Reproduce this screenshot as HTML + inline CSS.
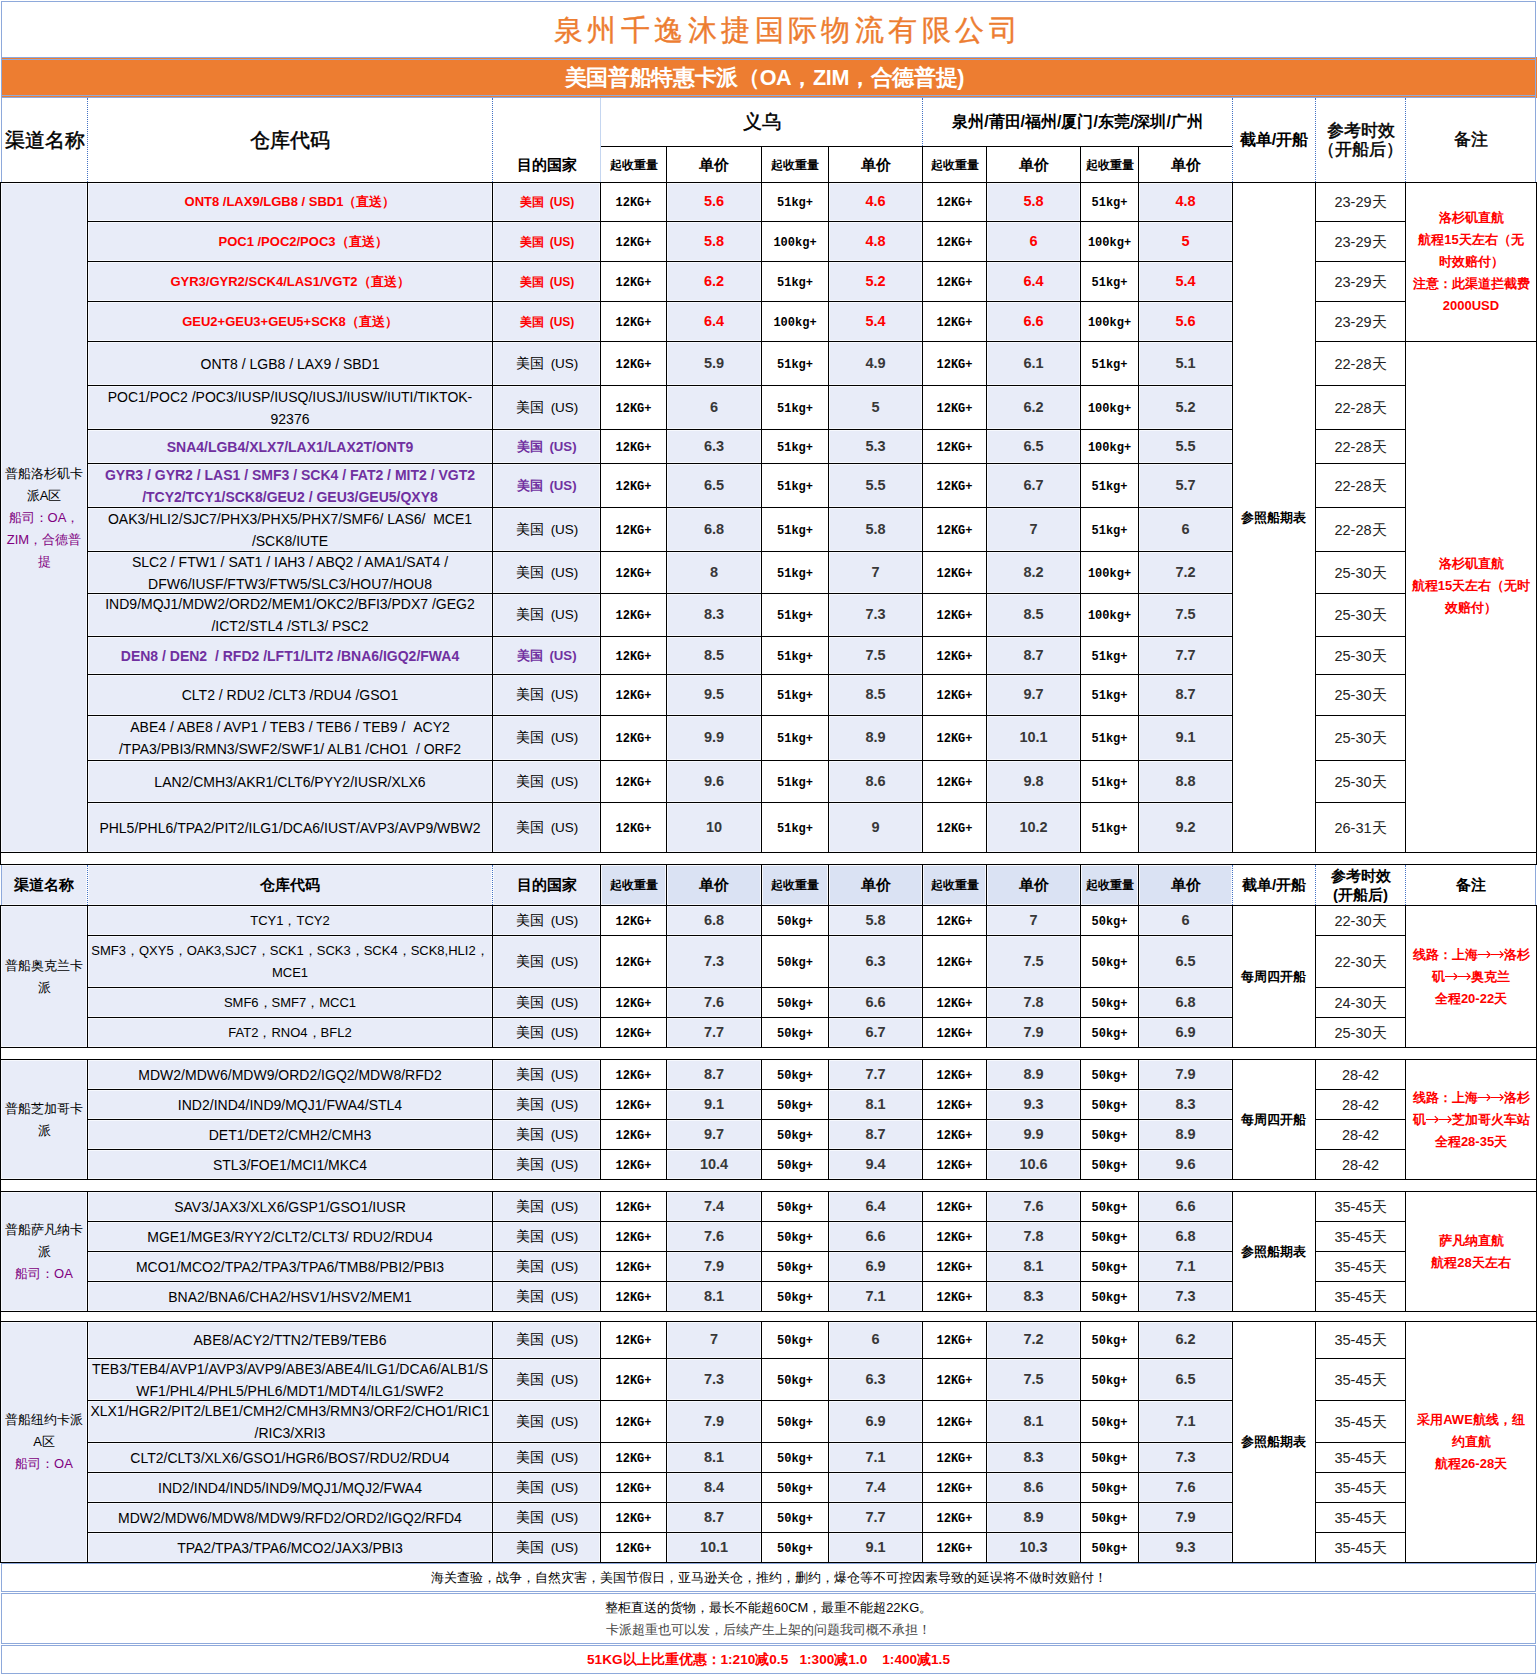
<!DOCTYPE html>
<html><head><meta charset="utf-8"><title>price</title><style>
*{margin:0;padding:0;box-sizing:border-box}
html,body{width:1537px;height:1675px;overflow:hidden;background:#fff}
body{position:relative;font-family:"Liberation Sans",sans-serif;color:#000}
body>div{position:absolute}
.t{display:flex;align-items:center;text-align:center;line-height:22px;white-space:nowrap}
.title{font-family:"Liberation Serif",serif;font-size:29px;color:#ED7D31;letter-spacing:4.45px;-webkit-text-stroke:0.35px #ED7D31;padding-left:39px}
.band{font-size:21.6px;font-weight:bold;color:#fff;padding-right:8px;letter-spacing:-0.35px}
.h1big{font-size:19.5px;-webkit-text-stroke:0.45px #000}
.h1yw{font-size:19px;-webkit-text-stroke:0.45px #000}
.h1ck{font-size:16.5px;-webkit-text-stroke:0.45px #000;line-height:19px}
.h1bz{font-size:17px;-webkit-text-stroke:0.45px #000}
.hb15{font-size:15px;font-weight:bold}
.hb16{font-size:16px;font-weight:bold}
.hb12{font-size:12px;font-weight:bold}
.lh19{line-height:19px}
.lh22{line-height:22px}
.code{font-size:14px;color:#000}
.cty{font-size:13.5px;padding-left:1px}
.cty .us{margin-left:7px}
.ctb{font-size:12px;padding-left:1px}
.ctb .us{margin-left:6px}
.ctp{font-size:13.2px}
.ctp .us{margin-left:6px}
.cb{font-size:13px}
.c13{font-size:13px}
.b{font-weight:bold}
.red{color:#FF0000}
.purple{color:#7030A0}
.mag{color:#800080}
.wt{font-family:"Liberation Mono",monospace;font-size:12px;font-weight:bold;padding-top:2px}
.wt.up{letter-spacing:0}
.price{font-size:14.5px;font-weight:bold;color:#383838;padding-bottom:2px}
.price.red{color:#FF0000}
.days{font-size:14.5px;color:#222}
.chan{font-size:13px}
.jd{font-size:13px;font-weight:bold}
.bz{font-size:13px;font-weight:bold;color:#FF0000}
.foot{font-size:12.9px}
.ar{vertical-align:middle;margin-top:-2px}
.f136{font-size:13.6px}
</style></head><body>
<div style="left:1px;top:1px;width:1535px;height:1px;background:#8EA9DB;"></div>
<div style="left:1px;top:1px;width:1px;height:97px;background:#8EA9DB;"></div>
<div style="left:1535px;top:1px;width:1px;height:97px;background:#8EA9DB;"></div>
<div class="t title" style="left:2px;top:2px;width:1533px;height:55px;justify-content:center;"><span>泉州千逸沐捷国际物流有限公司</span></div>
<div style="left:1px;top:57px;width:1536px;height:41px;background:#ED7D31;"></div>
<div style="left:1px;top:57px;width:1535px;height:1px;background:#8EA9DB;"></div>
<div style="left:1px;top:59px;width:1535px;height:1px;background:#8EA9DB;"></div>
<div style="left:1px;top:95px;width:1535px;height:1px;background:#8EA9DB;"></div>
<div style="left:1px;top:97px;width:1535px;height:1px;background:#8EA9DB;"></div>
<div style="left:1px;top:57px;width:1px;height:41px;background:#8EA9DB;"></div>
<div style="left:1535px;top:57px;width:1px;height:41px;background:#8EA9DB;"></div>
<div class="t band" style="left:2px;top:60px;width:1533px;height:35px;justify-content:center;"><span>美国普船特惠卡派（OA，ZIM，合德普提)</span></div>
<div style="left:1px;top:97px;width:1px;height:86px;background:#8EA9DB;"></div>
<div style="left:1535px;top:97px;width:1px;height:86px;background:#8EA9DB;"></div>
<div style="left:87px;top:98px;width:0;height:84px;border-left:1px dotted #4472C4;"></div>
<div style="left:492px;top:98px;width:0;height:84px;border-left:1px dotted #4472C4;"></div>
<div style="left:600px;top:98px;width:1px;height:84px;background:#C5D6F0;"></div>
<div style="left:922px;top:98px;width:0;height:48px;border-left:1px dotted #4472C4;"></div>
<div style="left:1232px;top:98px;width:0;height:84px;border-left:1px dotted #4472C4;"></div>
<div style="left:1315px;top:98px;width:0;height:84px;border-left:1px dotted #4472C4;"></div>
<div style="left:1405px;top:98px;width:0;height:84px;border-left:1px dotted #4472C4;"></div>
<div style="left:601px;top:146px;width:631px;height:1px;background:#000;"></div>
<div style="left:666px;top:146px;width:1px;height:37px;background:#000;"></div>
<div style="left:761px;top:146px;width:1px;height:37px;background:#000;"></div>
<div style="left:828px;top:146px;width:1px;height:37px;background:#000;"></div>
<div style="left:922px;top:146px;width:1px;height:37px;background:#000;"></div>
<div style="left:986px;top:146px;width:1px;height:37px;background:#000;"></div>
<div style="left:1080px;top:146px;width:1px;height:37px;background:#000;"></div>
<div style="left:1138px;top:146px;width:1px;height:37px;background:#000;"></div>
<div class="t h1big" style="left:2px;top:98px;width:85px;height:84px;justify-content:center;"><span>渠道名称</span></div>
<div class="t h1big" style="left:88px;top:98px;width:404px;height:84px;justify-content:center;"><span>仓库代码</span></div>
<div class="t hb15" style="left:493px;top:147px;width:107px;height:35px;justify-content:center;"><span>目的国家</span></div>
<div class="t h1yw" style="left:601px;top:98px;width:321px;height:48px;justify-content:center;"><span>义乌</span></div>
<div class="t hb16" style="left:923px;top:98px;width:309px;height:48px;justify-content:center;"><span>泉州/莆田/福州/厦门/东莞/深圳/广州</span></div>
<div class="t hb12" style="left:601px;top:147px;width:65px;height:35px;justify-content:center;"><span>起收重量</span></div>
<div class="t hb15" style="left:667px;top:147px;width:94px;height:35px;justify-content:center;"><span>单价</span></div>
<div class="t hb12" style="left:762px;top:147px;width:66px;height:35px;justify-content:center;"><span>起收重量</span></div>
<div class="t hb15" style="left:829px;top:147px;width:93px;height:35px;justify-content:center;"><span>单价</span></div>
<div class="t hb12" style="left:923px;top:147px;width:63px;height:35px;justify-content:center;"><span>起收重量</span></div>
<div class="t hb15" style="left:987px;top:147px;width:93px;height:35px;justify-content:center;"><span>单价</span></div>
<div class="t hb12" style="left:1081px;top:147px;width:57px;height:35px;justify-content:center;"><span>起收重量</span></div>
<div class="t hb15" style="left:1139px;top:147px;width:93px;height:35px;justify-content:center;"><span>单价</span></div>
<div class="t hb16" style="left:1233px;top:98px;width:82px;height:84px;justify-content:center;"><span>截单/开船</span></div>
<div class="t h1ck" style="left:1316px;top:98px;width:89px;height:84px;justify-content:center;"><span>参考时效<br>（开船后）</span></div>
<div class="t h1bz" style="left:1406px;top:98px;width:129px;height:84px;justify-content:center;"><span>备注</span></div>
<div style="left:1px;top:183px;width:86px;height:669px;background:#E8ECF8;box-shadow:inset 0 0 0 1px #F6F8FD"></div>
<div style="left:88px;top:183px;width:404px;height:38px;background:#E8ECF8;box-shadow:inset 0 0 0 1px #F6F8FD"></div>
<div style="left:493px;top:183px;width:107px;height:38px;background:#E8ECF8;box-shadow:inset 0 0 0 1px #F6F8FD"></div>
<div style="left:667px;top:183px;width:94px;height:38px;background:#E8ECF8;box-shadow:inset 0 0 0 1px #F6F8FD"></div>
<div style="left:829px;top:183px;width:93px;height:38px;background:#E8ECF8;box-shadow:inset 0 0 0 1px #F6F8FD"></div>
<div style="left:987px;top:183px;width:93px;height:38px;background:#E8ECF8;box-shadow:inset 0 0 0 1px #F6F8FD"></div>
<div style="left:1139px;top:183px;width:93px;height:38px;background:#E8ECF8;box-shadow:inset 0 0 0 1px #F6F8FD"></div>
<div style="left:88px;top:222px;width:404px;height:39px;background:#E8ECF8;box-shadow:inset 0 0 0 1px #F6F8FD"></div>
<div style="left:493px;top:222px;width:107px;height:39px;background:#E8ECF8;box-shadow:inset 0 0 0 1px #F6F8FD"></div>
<div style="left:667px;top:222px;width:94px;height:39px;background:#E8ECF8;box-shadow:inset 0 0 0 1px #F6F8FD"></div>
<div style="left:829px;top:222px;width:93px;height:39px;background:#E8ECF8;box-shadow:inset 0 0 0 1px #F6F8FD"></div>
<div style="left:987px;top:222px;width:93px;height:39px;background:#E8ECF8;box-shadow:inset 0 0 0 1px #F6F8FD"></div>
<div style="left:1139px;top:222px;width:93px;height:39px;background:#E8ECF8;box-shadow:inset 0 0 0 1px #F6F8FD"></div>
<div style="left:88px;top:262px;width:404px;height:39px;background:#E8ECF8;box-shadow:inset 0 0 0 1px #F6F8FD"></div>
<div style="left:493px;top:262px;width:107px;height:39px;background:#E8ECF8;box-shadow:inset 0 0 0 1px #F6F8FD"></div>
<div style="left:667px;top:262px;width:94px;height:39px;background:#E8ECF8;box-shadow:inset 0 0 0 1px #F6F8FD"></div>
<div style="left:829px;top:262px;width:93px;height:39px;background:#E8ECF8;box-shadow:inset 0 0 0 1px #F6F8FD"></div>
<div style="left:987px;top:262px;width:93px;height:39px;background:#E8ECF8;box-shadow:inset 0 0 0 1px #F6F8FD"></div>
<div style="left:1139px;top:262px;width:93px;height:39px;background:#E8ECF8;box-shadow:inset 0 0 0 1px #F6F8FD"></div>
<div style="left:88px;top:302px;width:404px;height:39px;background:#E8ECF8;box-shadow:inset 0 0 0 1px #F6F8FD"></div>
<div style="left:493px;top:302px;width:107px;height:39px;background:#E8ECF8;box-shadow:inset 0 0 0 1px #F6F8FD"></div>
<div style="left:667px;top:302px;width:94px;height:39px;background:#E8ECF8;box-shadow:inset 0 0 0 1px #F6F8FD"></div>
<div style="left:829px;top:302px;width:93px;height:39px;background:#E8ECF8;box-shadow:inset 0 0 0 1px #F6F8FD"></div>
<div style="left:987px;top:302px;width:93px;height:39px;background:#E8ECF8;box-shadow:inset 0 0 0 1px #F6F8FD"></div>
<div style="left:1139px;top:302px;width:93px;height:39px;background:#E8ECF8;box-shadow:inset 0 0 0 1px #F6F8FD"></div>
<div style="left:88px;top:342px;width:404px;height:43px;background:#E8ECF8;box-shadow:inset 0 0 0 1px #F6F8FD"></div>
<div style="left:493px;top:342px;width:107px;height:43px;background:#E8ECF8;box-shadow:inset 0 0 0 1px #F6F8FD"></div>
<div style="left:667px;top:342px;width:94px;height:43px;background:#E8ECF8;box-shadow:inset 0 0 0 1px #F6F8FD"></div>
<div style="left:829px;top:342px;width:93px;height:43px;background:#E8ECF8;box-shadow:inset 0 0 0 1px #F6F8FD"></div>
<div style="left:987px;top:342px;width:93px;height:43px;background:#E8ECF8;box-shadow:inset 0 0 0 1px #F6F8FD"></div>
<div style="left:1139px;top:342px;width:93px;height:43px;background:#E8ECF8;box-shadow:inset 0 0 0 1px #F6F8FD"></div>
<div style="left:88px;top:386px;width:404px;height:43px;background:#E8ECF8;box-shadow:inset 0 0 0 1px #F6F8FD"></div>
<div style="left:493px;top:386px;width:107px;height:43px;background:#E8ECF8;box-shadow:inset 0 0 0 1px #F6F8FD"></div>
<div style="left:667px;top:386px;width:94px;height:43px;background:#E8ECF8;box-shadow:inset 0 0 0 1px #F6F8FD"></div>
<div style="left:829px;top:386px;width:93px;height:43px;background:#E8ECF8;box-shadow:inset 0 0 0 1px #F6F8FD"></div>
<div style="left:987px;top:386px;width:93px;height:43px;background:#E8ECF8;box-shadow:inset 0 0 0 1px #F6F8FD"></div>
<div style="left:1139px;top:386px;width:93px;height:43px;background:#E8ECF8;box-shadow:inset 0 0 0 1px #F6F8FD"></div>
<div style="left:88px;top:430px;width:404px;height:33px;background:#E8ECF8;box-shadow:inset 0 0 0 1px #F6F8FD"></div>
<div style="left:493px;top:430px;width:107px;height:33px;background:#E8ECF8;box-shadow:inset 0 0 0 1px #F6F8FD"></div>
<div style="left:667px;top:430px;width:94px;height:33px;background:#E8ECF8;box-shadow:inset 0 0 0 1px #F6F8FD"></div>
<div style="left:829px;top:430px;width:93px;height:33px;background:#E8ECF8;box-shadow:inset 0 0 0 1px #F6F8FD"></div>
<div style="left:987px;top:430px;width:93px;height:33px;background:#E8ECF8;box-shadow:inset 0 0 0 1px #F6F8FD"></div>
<div style="left:1139px;top:430px;width:93px;height:33px;background:#E8ECF8;box-shadow:inset 0 0 0 1px #F6F8FD"></div>
<div style="left:88px;top:464px;width:404px;height:43px;background:#E8ECF8;box-shadow:inset 0 0 0 1px #F6F8FD"></div>
<div style="left:493px;top:464px;width:107px;height:43px;background:#E8ECF8;box-shadow:inset 0 0 0 1px #F6F8FD"></div>
<div style="left:667px;top:464px;width:94px;height:43px;background:#E8ECF8;box-shadow:inset 0 0 0 1px #F6F8FD"></div>
<div style="left:829px;top:464px;width:93px;height:43px;background:#E8ECF8;box-shadow:inset 0 0 0 1px #F6F8FD"></div>
<div style="left:987px;top:464px;width:93px;height:43px;background:#E8ECF8;box-shadow:inset 0 0 0 1px #F6F8FD"></div>
<div style="left:1139px;top:464px;width:93px;height:43px;background:#E8ECF8;box-shadow:inset 0 0 0 1px #F6F8FD"></div>
<div style="left:88px;top:508px;width:404px;height:43px;background:#E8ECF8;box-shadow:inset 0 0 0 1px #F6F8FD"></div>
<div style="left:493px;top:508px;width:107px;height:43px;background:#E8ECF8;box-shadow:inset 0 0 0 1px #F6F8FD"></div>
<div style="left:667px;top:508px;width:94px;height:43px;background:#E8ECF8;box-shadow:inset 0 0 0 1px #F6F8FD"></div>
<div style="left:829px;top:508px;width:93px;height:43px;background:#E8ECF8;box-shadow:inset 0 0 0 1px #F6F8FD"></div>
<div style="left:987px;top:508px;width:93px;height:43px;background:#E8ECF8;box-shadow:inset 0 0 0 1px #F6F8FD"></div>
<div style="left:1139px;top:508px;width:93px;height:43px;background:#E8ECF8;box-shadow:inset 0 0 0 1px #F6F8FD"></div>
<div style="left:88px;top:552px;width:404px;height:41px;background:#E8ECF8;box-shadow:inset 0 0 0 1px #F6F8FD"></div>
<div style="left:493px;top:552px;width:107px;height:41px;background:#E8ECF8;box-shadow:inset 0 0 0 1px #F6F8FD"></div>
<div style="left:667px;top:552px;width:94px;height:41px;background:#E8ECF8;box-shadow:inset 0 0 0 1px #F6F8FD"></div>
<div style="left:829px;top:552px;width:93px;height:41px;background:#E8ECF8;box-shadow:inset 0 0 0 1px #F6F8FD"></div>
<div style="left:987px;top:552px;width:93px;height:41px;background:#E8ECF8;box-shadow:inset 0 0 0 1px #F6F8FD"></div>
<div style="left:1139px;top:552px;width:93px;height:41px;background:#E8ECF8;box-shadow:inset 0 0 0 1px #F6F8FD"></div>
<div style="left:88px;top:594px;width:404px;height:42px;background:#E8ECF8;box-shadow:inset 0 0 0 1px #F6F8FD"></div>
<div style="left:493px;top:594px;width:107px;height:42px;background:#E8ECF8;box-shadow:inset 0 0 0 1px #F6F8FD"></div>
<div style="left:667px;top:594px;width:94px;height:42px;background:#E8ECF8;box-shadow:inset 0 0 0 1px #F6F8FD"></div>
<div style="left:829px;top:594px;width:93px;height:42px;background:#E8ECF8;box-shadow:inset 0 0 0 1px #F6F8FD"></div>
<div style="left:987px;top:594px;width:93px;height:42px;background:#E8ECF8;box-shadow:inset 0 0 0 1px #F6F8FD"></div>
<div style="left:1139px;top:594px;width:93px;height:42px;background:#E8ECF8;box-shadow:inset 0 0 0 1px #F6F8FD"></div>
<div style="left:88px;top:637px;width:404px;height:37px;background:#E8ECF8;box-shadow:inset 0 0 0 1px #F6F8FD"></div>
<div style="left:493px;top:637px;width:107px;height:37px;background:#E8ECF8;box-shadow:inset 0 0 0 1px #F6F8FD"></div>
<div style="left:667px;top:637px;width:94px;height:37px;background:#E8ECF8;box-shadow:inset 0 0 0 1px #F6F8FD"></div>
<div style="left:829px;top:637px;width:93px;height:37px;background:#E8ECF8;box-shadow:inset 0 0 0 1px #F6F8FD"></div>
<div style="left:987px;top:637px;width:93px;height:37px;background:#E8ECF8;box-shadow:inset 0 0 0 1px #F6F8FD"></div>
<div style="left:1139px;top:637px;width:93px;height:37px;background:#E8ECF8;box-shadow:inset 0 0 0 1px #F6F8FD"></div>
<div style="left:88px;top:675px;width:404px;height:40px;background:#E8ECF8;box-shadow:inset 0 0 0 1px #F6F8FD"></div>
<div style="left:493px;top:675px;width:107px;height:40px;background:#E8ECF8;box-shadow:inset 0 0 0 1px #F6F8FD"></div>
<div style="left:667px;top:675px;width:94px;height:40px;background:#E8ECF8;box-shadow:inset 0 0 0 1px #F6F8FD"></div>
<div style="left:829px;top:675px;width:93px;height:40px;background:#E8ECF8;box-shadow:inset 0 0 0 1px #F6F8FD"></div>
<div style="left:987px;top:675px;width:93px;height:40px;background:#E8ECF8;box-shadow:inset 0 0 0 1px #F6F8FD"></div>
<div style="left:1139px;top:675px;width:93px;height:40px;background:#E8ECF8;box-shadow:inset 0 0 0 1px #F6F8FD"></div>
<div style="left:88px;top:716px;width:404px;height:44px;background:#E8ECF8;box-shadow:inset 0 0 0 1px #F6F8FD"></div>
<div style="left:493px;top:716px;width:107px;height:44px;background:#E8ECF8;box-shadow:inset 0 0 0 1px #F6F8FD"></div>
<div style="left:667px;top:716px;width:94px;height:44px;background:#E8ECF8;box-shadow:inset 0 0 0 1px #F6F8FD"></div>
<div style="left:829px;top:716px;width:93px;height:44px;background:#E8ECF8;box-shadow:inset 0 0 0 1px #F6F8FD"></div>
<div style="left:987px;top:716px;width:93px;height:44px;background:#E8ECF8;box-shadow:inset 0 0 0 1px #F6F8FD"></div>
<div style="left:1139px;top:716px;width:93px;height:44px;background:#E8ECF8;box-shadow:inset 0 0 0 1px #F6F8FD"></div>
<div style="left:88px;top:761px;width:404px;height:41px;background:#E8ECF8;box-shadow:inset 0 0 0 1px #F6F8FD"></div>
<div style="left:493px;top:761px;width:107px;height:41px;background:#E8ECF8;box-shadow:inset 0 0 0 1px #F6F8FD"></div>
<div style="left:667px;top:761px;width:94px;height:41px;background:#E8ECF8;box-shadow:inset 0 0 0 1px #F6F8FD"></div>
<div style="left:829px;top:761px;width:93px;height:41px;background:#E8ECF8;box-shadow:inset 0 0 0 1px #F6F8FD"></div>
<div style="left:987px;top:761px;width:93px;height:41px;background:#E8ECF8;box-shadow:inset 0 0 0 1px #F6F8FD"></div>
<div style="left:1139px;top:761px;width:93px;height:41px;background:#E8ECF8;box-shadow:inset 0 0 0 1px #F6F8FD"></div>
<div style="left:88px;top:803px;width:404px;height:49px;background:#E8ECF8;box-shadow:inset 0 0 0 1px #F6F8FD"></div>
<div style="left:493px;top:803px;width:107px;height:49px;background:#E8ECF8;box-shadow:inset 0 0 0 1px #F6F8FD"></div>
<div style="left:667px;top:803px;width:94px;height:49px;background:#E8ECF8;box-shadow:inset 0 0 0 1px #F6F8FD"></div>
<div style="left:829px;top:803px;width:93px;height:49px;background:#E8ECF8;box-shadow:inset 0 0 0 1px #F6F8FD"></div>
<div style="left:987px;top:803px;width:93px;height:49px;background:#E8ECF8;box-shadow:inset 0 0 0 1px #F6F8FD"></div>
<div style="left:1139px;top:803px;width:93px;height:49px;background:#E8ECF8;box-shadow:inset 0 0 0 1px #F6F8FD"></div>
<div style="left:0px;top:182px;width:1537px;height:1px;background:#000;"></div>
<div style="left:0px;top:852px;width:1537px;height:1px;background:#000;"></div>
<div style="left:87px;top:221px;width:1146px;height:1px;background:#000;"></div>
<div style="left:1315px;top:221px;width:91px;height:1px;background:#000;"></div>
<div style="left:87px;top:261px;width:1146px;height:1px;background:#000;"></div>
<div style="left:1315px;top:261px;width:91px;height:1px;background:#000;"></div>
<div style="left:87px;top:301px;width:1146px;height:1px;background:#000;"></div>
<div style="left:1315px;top:301px;width:91px;height:1px;background:#000;"></div>
<div style="left:87px;top:341px;width:1146px;height:1px;background:#000;"></div>
<div style="left:1315px;top:341px;width:91px;height:1px;background:#000;"></div>
<div style="left:87px;top:385px;width:1146px;height:1px;background:#000;"></div>
<div style="left:1315px;top:385px;width:91px;height:1px;background:#000;"></div>
<div style="left:87px;top:429px;width:1146px;height:1px;background:#000;"></div>
<div style="left:1315px;top:429px;width:91px;height:1px;background:#000;"></div>
<div style="left:87px;top:463px;width:1146px;height:1px;background:#000;"></div>
<div style="left:1315px;top:463px;width:91px;height:1px;background:#000;"></div>
<div style="left:87px;top:507px;width:1146px;height:1px;background:#000;"></div>
<div style="left:1315px;top:507px;width:91px;height:1px;background:#000;"></div>
<div style="left:87px;top:551px;width:1146px;height:1px;background:#000;"></div>
<div style="left:1315px;top:551px;width:91px;height:1px;background:#000;"></div>
<div style="left:87px;top:593px;width:1146px;height:1px;background:#000;"></div>
<div style="left:1315px;top:593px;width:91px;height:1px;background:#000;"></div>
<div style="left:87px;top:636px;width:1146px;height:1px;background:#000;"></div>
<div style="left:1315px;top:636px;width:91px;height:1px;background:#000;"></div>
<div style="left:87px;top:674px;width:1146px;height:1px;background:#000;"></div>
<div style="left:1315px;top:674px;width:91px;height:1px;background:#000;"></div>
<div style="left:87px;top:715px;width:1146px;height:1px;background:#000;"></div>
<div style="left:1315px;top:715px;width:91px;height:1px;background:#000;"></div>
<div style="left:87px;top:760px;width:1146px;height:1px;background:#000;"></div>
<div style="left:1315px;top:760px;width:91px;height:1px;background:#000;"></div>
<div style="left:87px;top:802px;width:1146px;height:1px;background:#000;"></div>
<div style="left:1315px;top:802px;width:91px;height:1px;background:#000;"></div>
<div style="left:1405px;top:341px;width:132px;height:1px;background:#000;"></div>
<div style="left:0px;top:182px;width:1px;height:671px;background:#000;"></div>
<div style="left:87px;top:182px;width:1px;height:671px;background:#000;"></div>
<div style="left:492px;top:182px;width:1px;height:671px;background:#000;"></div>
<div style="left:600px;top:182px;width:1px;height:671px;background:#000;"></div>
<div style="left:666px;top:182px;width:1px;height:671px;background:#000;"></div>
<div style="left:761px;top:182px;width:1px;height:671px;background:#000;"></div>
<div style="left:828px;top:182px;width:1px;height:671px;background:#000;"></div>
<div style="left:922px;top:182px;width:1px;height:671px;background:#000;"></div>
<div style="left:986px;top:182px;width:1px;height:671px;background:#000;"></div>
<div style="left:1080px;top:182px;width:1px;height:671px;background:#000;"></div>
<div style="left:1138px;top:182px;width:1px;height:671px;background:#000;"></div>
<div style="left:1232px;top:182px;width:1px;height:671px;background:#000;"></div>
<div style="left:1315px;top:182px;width:1px;height:671px;background:#000;"></div>
<div style="left:1405px;top:182px;width:1px;height:671px;background:#000;"></div>
<div style="left:1536px;top:182px;width:1px;height:671px;background:#000;"></div>
<div class="t code red b cb " style="left:88px;top:183px;width:404px;height:38px;justify-content:center;"><span>ONT8 /LAX9/LGB8 / SBD1（直送）</span></div>
<div class="t cty red b ctb" style="left:493px;top:183px;width:107px;height:38px;justify-content:center;"><span>美国<span class="us">(US)</span></span></div>
<div class="t wt up" style="left:601px;top:183px;width:65px;height:38px;justify-content:center;"><span>12KG+</span></div>
<div class="t price red" style="left:667px;top:183px;width:94px;height:38px;justify-content:center;"><span>5.6</span></div>
<div class="t wt" style="left:762px;top:183px;width:66px;height:38px;justify-content:center;"><span>51kg+</span></div>
<div class="t price red" style="left:829px;top:183px;width:93px;height:38px;justify-content:center;"><span>4.6</span></div>
<div class="t wt up" style="left:923px;top:183px;width:63px;height:38px;justify-content:center;"><span>12KG+</span></div>
<div class="t price red" style="left:987px;top:183px;width:93px;height:38px;justify-content:center;"><span>5.8</span></div>
<div class="t wt" style="left:1081px;top:183px;width:57px;height:38px;justify-content:center;"><span>51kg+</span></div>
<div class="t price red" style="left:1139px;top:183px;width:93px;height:38px;justify-content:center;"><span>4.8</span></div>
<div class="t days" style="left:1316px;top:183px;width:89px;height:38px;justify-content:center;"><span>23-29天</span></div>
<div class="t code red b cb " style="left:88px;top:222px;width:404px;height:39px;justify-content:center;"><span><span style="padding-left:26px">POC1 /POC2/POC3（直送）</span></span></div>
<div class="t cty red b ctb" style="left:493px;top:222px;width:107px;height:39px;justify-content:center;"><span>美国<span class="us">(US)</span></span></div>
<div class="t wt up" style="left:601px;top:222px;width:65px;height:39px;justify-content:center;"><span>12KG+</span></div>
<div class="t price red" style="left:667px;top:222px;width:94px;height:39px;justify-content:center;"><span>5.8</span></div>
<div class="t wt" style="left:762px;top:222px;width:66px;height:39px;justify-content:center;"><span>100kg+</span></div>
<div class="t price red" style="left:829px;top:222px;width:93px;height:39px;justify-content:center;"><span>4.8</span></div>
<div class="t wt up" style="left:923px;top:222px;width:63px;height:39px;justify-content:center;"><span>12KG+</span></div>
<div class="t price red" style="left:987px;top:222px;width:93px;height:39px;justify-content:center;"><span>6</span></div>
<div class="t wt" style="left:1081px;top:222px;width:57px;height:39px;justify-content:center;"><span>100kg+</span></div>
<div class="t price red" style="left:1139px;top:222px;width:93px;height:39px;justify-content:center;"><span>5</span></div>
<div class="t days" style="left:1316px;top:222px;width:89px;height:39px;justify-content:center;"><span>23-29天</span></div>
<div class="t code red b cb " style="left:88px;top:262px;width:404px;height:39px;justify-content:center;"><span>GYR3/GYR2/SCK4/LAS1/VGT2（直送）</span></div>
<div class="t cty red b ctb" style="left:493px;top:262px;width:107px;height:39px;justify-content:center;"><span>美国<span class="us">(US)</span></span></div>
<div class="t wt up" style="left:601px;top:262px;width:65px;height:39px;justify-content:center;"><span>12KG+</span></div>
<div class="t price red" style="left:667px;top:262px;width:94px;height:39px;justify-content:center;"><span>6.2</span></div>
<div class="t wt" style="left:762px;top:262px;width:66px;height:39px;justify-content:center;"><span>51kg+</span></div>
<div class="t price red" style="left:829px;top:262px;width:93px;height:39px;justify-content:center;"><span>5.2</span></div>
<div class="t wt up" style="left:923px;top:262px;width:63px;height:39px;justify-content:center;"><span>12KG+</span></div>
<div class="t price red" style="left:987px;top:262px;width:93px;height:39px;justify-content:center;"><span>6.4</span></div>
<div class="t wt" style="left:1081px;top:262px;width:57px;height:39px;justify-content:center;"><span>51kg+</span></div>
<div class="t price red" style="left:1139px;top:262px;width:93px;height:39px;justify-content:center;"><span>5.4</span></div>
<div class="t days" style="left:1316px;top:262px;width:89px;height:39px;justify-content:center;"><span>23-29天</span></div>
<div class="t code red b cb " style="left:88px;top:302px;width:404px;height:39px;justify-content:center;"><span>GEU2+GEU3+GEU5+SCK8（直送）</span></div>
<div class="t cty red b ctb" style="left:493px;top:302px;width:107px;height:39px;justify-content:center;"><span>美国<span class="us">(US)</span></span></div>
<div class="t wt up" style="left:601px;top:302px;width:65px;height:39px;justify-content:center;"><span>12KG+</span></div>
<div class="t price red" style="left:667px;top:302px;width:94px;height:39px;justify-content:center;"><span>6.4</span></div>
<div class="t wt" style="left:762px;top:302px;width:66px;height:39px;justify-content:center;"><span>100kg+</span></div>
<div class="t price red" style="left:829px;top:302px;width:93px;height:39px;justify-content:center;"><span>5.4</span></div>
<div class="t wt up" style="left:923px;top:302px;width:63px;height:39px;justify-content:center;"><span>12KG+</span></div>
<div class="t price red" style="left:987px;top:302px;width:93px;height:39px;justify-content:center;"><span>6.6</span></div>
<div class="t wt" style="left:1081px;top:302px;width:57px;height:39px;justify-content:center;"><span>100kg+</span></div>
<div class="t price red" style="left:1139px;top:302px;width:93px;height:39px;justify-content:center;"><span>5.6</span></div>
<div class="t days" style="left:1316px;top:302px;width:89px;height:39px;justify-content:center;"><span>23-29天</span></div>
<div class="t code " style="left:88px;top:342px;width:404px;height:43px;justify-content:center;"><span>ONT8 / LGB8 / LAX9 / SBD1</span></div>
<div class="t cty" style="left:493px;top:342px;width:107px;height:43px;justify-content:center;"><span>美国<span class="us">(US)</span></span></div>
<div class="t wt up" style="left:601px;top:342px;width:65px;height:43px;justify-content:center;"><span>12KG+</span></div>
<div class="t price" style="left:667px;top:342px;width:94px;height:43px;justify-content:center;"><span>5.9</span></div>
<div class="t wt" style="left:762px;top:342px;width:66px;height:43px;justify-content:center;"><span>51kg+</span></div>
<div class="t price" style="left:829px;top:342px;width:93px;height:43px;justify-content:center;"><span>4.9</span></div>
<div class="t wt up" style="left:923px;top:342px;width:63px;height:43px;justify-content:center;"><span>12KG+</span></div>
<div class="t price" style="left:987px;top:342px;width:93px;height:43px;justify-content:center;"><span>6.1</span></div>
<div class="t wt" style="left:1081px;top:342px;width:57px;height:43px;justify-content:center;"><span>51kg+</span></div>
<div class="t price" style="left:1139px;top:342px;width:93px;height:43px;justify-content:center;"><span>5.1</span></div>
<div class="t days" style="left:1316px;top:342px;width:89px;height:43px;justify-content:center;"><span>22-28天</span></div>
<div class="t code " style="left:88px;top:386px;width:404px;height:43px;justify-content:center;"><span>POC1/POC2 /POC3/IUSP/IUSQ/IUSJ/IUSW/IUTI/TIKTOK-<br>92376</span></div>
<div class="t cty" style="left:493px;top:386px;width:107px;height:43px;justify-content:center;"><span>美国<span class="us">(US)</span></span></div>
<div class="t wt up" style="left:601px;top:386px;width:65px;height:43px;justify-content:center;"><span>12KG+</span></div>
<div class="t price" style="left:667px;top:386px;width:94px;height:43px;justify-content:center;"><span>6</span></div>
<div class="t wt" style="left:762px;top:386px;width:66px;height:43px;justify-content:center;"><span>51kg+</span></div>
<div class="t price" style="left:829px;top:386px;width:93px;height:43px;justify-content:center;"><span>5</span></div>
<div class="t wt up" style="left:923px;top:386px;width:63px;height:43px;justify-content:center;"><span>12KG+</span></div>
<div class="t price" style="left:987px;top:386px;width:93px;height:43px;justify-content:center;"><span>6.2</span></div>
<div class="t wt" style="left:1081px;top:386px;width:57px;height:43px;justify-content:center;"><span>100kg+</span></div>
<div class="t price" style="left:1139px;top:386px;width:93px;height:43px;justify-content:center;"><span>5.2</span></div>
<div class="t days" style="left:1316px;top:386px;width:89px;height:43px;justify-content:center;"><span>22-28天</span></div>
<div class="t code purple b " style="left:88px;top:430px;width:404px;height:33px;justify-content:center;"><span>SNA4/LGB4/XLX7/LAX1/LAX2T/ONT9</span></div>
<div class="t cty purple b ctp" style="left:493px;top:430px;width:107px;height:33px;justify-content:center;"><span>美国<span class="us">(US)</span></span></div>
<div class="t wt up" style="left:601px;top:430px;width:65px;height:33px;justify-content:center;"><span>12KG+</span></div>
<div class="t price" style="left:667px;top:430px;width:94px;height:33px;justify-content:center;"><span>6.3</span></div>
<div class="t wt" style="left:762px;top:430px;width:66px;height:33px;justify-content:center;"><span>51kg+</span></div>
<div class="t price" style="left:829px;top:430px;width:93px;height:33px;justify-content:center;"><span>5.3</span></div>
<div class="t wt up" style="left:923px;top:430px;width:63px;height:33px;justify-content:center;"><span>12KG+</span></div>
<div class="t price" style="left:987px;top:430px;width:93px;height:33px;justify-content:center;"><span>6.5</span></div>
<div class="t wt" style="left:1081px;top:430px;width:57px;height:33px;justify-content:center;"><span>100kg+</span></div>
<div class="t price" style="left:1139px;top:430px;width:93px;height:33px;justify-content:center;"><span>5.5</span></div>
<div class="t days" style="left:1316px;top:430px;width:89px;height:33px;justify-content:center;"><span>22-28天</span></div>
<div class="t code purple b " style="left:88px;top:464px;width:404px;height:43px;justify-content:center;"><span>GYR3 / GYR2 / LAS1 / SMF3 / SCK4 / FAT2 / MIT2 / VGT2<br>/TCY2/TCY1/SCK8/GEU2 / GEU3/GEU5/QXY8</span></div>
<div class="t cty purple b ctp" style="left:493px;top:464px;width:107px;height:43px;justify-content:center;"><span>美国<span class="us">(US)</span></span></div>
<div class="t wt up" style="left:601px;top:464px;width:65px;height:43px;justify-content:center;"><span>12KG+</span></div>
<div class="t price" style="left:667px;top:464px;width:94px;height:43px;justify-content:center;"><span>6.5</span></div>
<div class="t wt" style="left:762px;top:464px;width:66px;height:43px;justify-content:center;"><span>51kg+</span></div>
<div class="t price" style="left:829px;top:464px;width:93px;height:43px;justify-content:center;"><span>5.5</span></div>
<div class="t wt up" style="left:923px;top:464px;width:63px;height:43px;justify-content:center;"><span>12KG+</span></div>
<div class="t price" style="left:987px;top:464px;width:93px;height:43px;justify-content:center;"><span>6.7</span></div>
<div class="t wt" style="left:1081px;top:464px;width:57px;height:43px;justify-content:center;"><span>51kg+</span></div>
<div class="t price" style="left:1139px;top:464px;width:93px;height:43px;justify-content:center;"><span>5.7</span></div>
<div class="t days" style="left:1316px;top:464px;width:89px;height:43px;justify-content:center;"><span>22-28天</span></div>
<div class="t code " style="left:88px;top:508px;width:404px;height:43px;justify-content:center;"><span>OAK3/HLI2/SJC7/PHX3/PHX5/PHX7/SMF6/ LAS6/&nbsp; MCE1<br>/SCK8/IUTE</span></div>
<div class="t cty" style="left:493px;top:508px;width:107px;height:43px;justify-content:center;"><span>美国<span class="us">(US)</span></span></div>
<div class="t wt up" style="left:601px;top:508px;width:65px;height:43px;justify-content:center;"><span>12KG+</span></div>
<div class="t price" style="left:667px;top:508px;width:94px;height:43px;justify-content:center;"><span>6.8</span></div>
<div class="t wt" style="left:762px;top:508px;width:66px;height:43px;justify-content:center;"><span>51kg+</span></div>
<div class="t price" style="left:829px;top:508px;width:93px;height:43px;justify-content:center;"><span>5.8</span></div>
<div class="t wt up" style="left:923px;top:508px;width:63px;height:43px;justify-content:center;"><span>12KG+</span></div>
<div class="t price" style="left:987px;top:508px;width:93px;height:43px;justify-content:center;"><span>7</span></div>
<div class="t wt" style="left:1081px;top:508px;width:57px;height:43px;justify-content:center;"><span>51kg+</span></div>
<div class="t price" style="left:1139px;top:508px;width:93px;height:43px;justify-content:center;"><span>6</span></div>
<div class="t days" style="left:1316px;top:508px;width:89px;height:43px;justify-content:center;"><span>22-28天</span></div>
<div class="t code " style="left:88px;top:552px;width:404px;height:41px;justify-content:center;"><span>SLC2 / FTW1 / SAT1 / IAH3 / ABQ2 / AMA1/SAT4 /<br>DFW6/IUSF/FTW3/FTW5/SLC3/HOU7/HOU8</span></div>
<div class="t cty" style="left:493px;top:552px;width:107px;height:41px;justify-content:center;"><span>美国<span class="us">(US)</span></span></div>
<div class="t wt up" style="left:601px;top:552px;width:65px;height:41px;justify-content:center;"><span>12KG+</span></div>
<div class="t price" style="left:667px;top:552px;width:94px;height:41px;justify-content:center;"><span>8</span></div>
<div class="t wt" style="left:762px;top:552px;width:66px;height:41px;justify-content:center;"><span>51kg+</span></div>
<div class="t price" style="left:829px;top:552px;width:93px;height:41px;justify-content:center;"><span>7</span></div>
<div class="t wt up" style="left:923px;top:552px;width:63px;height:41px;justify-content:center;"><span>12KG+</span></div>
<div class="t price" style="left:987px;top:552px;width:93px;height:41px;justify-content:center;"><span>8.2</span></div>
<div class="t wt" style="left:1081px;top:552px;width:57px;height:41px;justify-content:center;"><span>100kg+</span></div>
<div class="t price" style="left:1139px;top:552px;width:93px;height:41px;justify-content:center;"><span>7.2</span></div>
<div class="t days" style="left:1316px;top:552px;width:89px;height:41px;justify-content:center;"><span>25-30天</span></div>
<div class="t code " style="left:88px;top:594px;width:404px;height:42px;justify-content:center;"><span>IND9/MQJ1/MDW2/ORD2/MEM1/OKC2/BFI3/PDX7 /GEG2<br>/ICT2/STL4 /STL3/ PSC2</span></div>
<div class="t cty" style="left:493px;top:594px;width:107px;height:42px;justify-content:center;"><span>美国<span class="us">(US)</span></span></div>
<div class="t wt up" style="left:601px;top:594px;width:65px;height:42px;justify-content:center;"><span>12KG+</span></div>
<div class="t price" style="left:667px;top:594px;width:94px;height:42px;justify-content:center;"><span>8.3</span></div>
<div class="t wt" style="left:762px;top:594px;width:66px;height:42px;justify-content:center;"><span>51kg+</span></div>
<div class="t price" style="left:829px;top:594px;width:93px;height:42px;justify-content:center;"><span>7.3</span></div>
<div class="t wt up" style="left:923px;top:594px;width:63px;height:42px;justify-content:center;"><span>12KG+</span></div>
<div class="t price" style="left:987px;top:594px;width:93px;height:42px;justify-content:center;"><span>8.5</span></div>
<div class="t wt" style="left:1081px;top:594px;width:57px;height:42px;justify-content:center;"><span>100kg+</span></div>
<div class="t price" style="left:1139px;top:594px;width:93px;height:42px;justify-content:center;"><span>7.5</span></div>
<div class="t days" style="left:1316px;top:594px;width:89px;height:42px;justify-content:center;"><span>25-30天</span></div>
<div class="t code purple b " style="left:88px;top:637px;width:404px;height:37px;justify-content:center;"><span>DEN8 / DEN2 &nbsp;/ RFD2 /LFT1/LIT2 /BNA6/IGQ2/FWA4</span></div>
<div class="t cty purple b ctp" style="left:493px;top:637px;width:107px;height:37px;justify-content:center;"><span>美国<span class="us">(US)</span></span></div>
<div class="t wt up" style="left:601px;top:637px;width:65px;height:37px;justify-content:center;"><span>12KG+</span></div>
<div class="t price" style="left:667px;top:637px;width:94px;height:37px;justify-content:center;"><span>8.5</span></div>
<div class="t wt" style="left:762px;top:637px;width:66px;height:37px;justify-content:center;"><span>51kg+</span></div>
<div class="t price" style="left:829px;top:637px;width:93px;height:37px;justify-content:center;"><span>7.5</span></div>
<div class="t wt up" style="left:923px;top:637px;width:63px;height:37px;justify-content:center;"><span>12KG+</span></div>
<div class="t price" style="left:987px;top:637px;width:93px;height:37px;justify-content:center;"><span>8.7</span></div>
<div class="t wt" style="left:1081px;top:637px;width:57px;height:37px;justify-content:center;"><span>51kg+</span></div>
<div class="t price" style="left:1139px;top:637px;width:93px;height:37px;justify-content:center;"><span>7.7</span></div>
<div class="t days" style="left:1316px;top:637px;width:89px;height:37px;justify-content:center;"><span>25-30天</span></div>
<div class="t code " style="left:88px;top:675px;width:404px;height:40px;justify-content:center;"><span>CLT2 / RDU2 /CLT3 /RDU4 /GSO1</span></div>
<div class="t cty" style="left:493px;top:675px;width:107px;height:40px;justify-content:center;"><span>美国<span class="us">(US)</span></span></div>
<div class="t wt up" style="left:601px;top:675px;width:65px;height:40px;justify-content:center;"><span>12KG+</span></div>
<div class="t price" style="left:667px;top:675px;width:94px;height:40px;justify-content:center;"><span>9.5</span></div>
<div class="t wt" style="left:762px;top:675px;width:66px;height:40px;justify-content:center;"><span>51kg+</span></div>
<div class="t price" style="left:829px;top:675px;width:93px;height:40px;justify-content:center;"><span>8.5</span></div>
<div class="t wt up" style="left:923px;top:675px;width:63px;height:40px;justify-content:center;"><span>12KG+</span></div>
<div class="t price" style="left:987px;top:675px;width:93px;height:40px;justify-content:center;"><span>9.7</span></div>
<div class="t wt" style="left:1081px;top:675px;width:57px;height:40px;justify-content:center;"><span>51kg+</span></div>
<div class="t price" style="left:1139px;top:675px;width:93px;height:40px;justify-content:center;"><span>8.7</span></div>
<div class="t days" style="left:1316px;top:675px;width:89px;height:40px;justify-content:center;"><span>25-30天</span></div>
<div class="t code " style="left:88px;top:716px;width:404px;height:44px;justify-content:center;"><span>ABE4 / ABE8 / AVP1 / TEB3 / TEB6 / TEB9 / &nbsp;ACY2<br>/TPA3/PBI3/RMN3/SWF2/SWF1/ ALB1 /CHO1 &nbsp;/ ORF2</span></div>
<div class="t cty" style="left:493px;top:716px;width:107px;height:44px;justify-content:center;"><span>美国<span class="us">(US)</span></span></div>
<div class="t wt up" style="left:601px;top:716px;width:65px;height:44px;justify-content:center;"><span>12KG+</span></div>
<div class="t price" style="left:667px;top:716px;width:94px;height:44px;justify-content:center;"><span>9.9</span></div>
<div class="t wt" style="left:762px;top:716px;width:66px;height:44px;justify-content:center;"><span>51kg+</span></div>
<div class="t price" style="left:829px;top:716px;width:93px;height:44px;justify-content:center;"><span>8.9</span></div>
<div class="t wt up" style="left:923px;top:716px;width:63px;height:44px;justify-content:center;"><span>12KG+</span></div>
<div class="t price" style="left:987px;top:716px;width:93px;height:44px;justify-content:center;"><span>10.1</span></div>
<div class="t wt" style="left:1081px;top:716px;width:57px;height:44px;justify-content:center;"><span>51kg+</span></div>
<div class="t price" style="left:1139px;top:716px;width:93px;height:44px;justify-content:center;"><span>9.1</span></div>
<div class="t days" style="left:1316px;top:716px;width:89px;height:44px;justify-content:center;"><span>25-30天</span></div>
<div class="t code " style="left:88px;top:761px;width:404px;height:41px;justify-content:center;"><span>LAN2/CMH3/AKR1/CLT6/PYY2/IUSR/XLX6</span></div>
<div class="t cty" style="left:493px;top:761px;width:107px;height:41px;justify-content:center;"><span>美国<span class="us">(US)</span></span></div>
<div class="t wt up" style="left:601px;top:761px;width:65px;height:41px;justify-content:center;"><span>12KG+</span></div>
<div class="t price" style="left:667px;top:761px;width:94px;height:41px;justify-content:center;"><span>9.6</span></div>
<div class="t wt" style="left:762px;top:761px;width:66px;height:41px;justify-content:center;"><span>51kg+</span></div>
<div class="t price" style="left:829px;top:761px;width:93px;height:41px;justify-content:center;"><span>8.6</span></div>
<div class="t wt up" style="left:923px;top:761px;width:63px;height:41px;justify-content:center;"><span>12KG+</span></div>
<div class="t price" style="left:987px;top:761px;width:93px;height:41px;justify-content:center;"><span>9.8</span></div>
<div class="t wt" style="left:1081px;top:761px;width:57px;height:41px;justify-content:center;"><span>51kg+</span></div>
<div class="t price" style="left:1139px;top:761px;width:93px;height:41px;justify-content:center;"><span>8.8</span></div>
<div class="t days" style="left:1316px;top:761px;width:89px;height:41px;justify-content:center;"><span>25-30天</span></div>
<div class="t code " style="left:88px;top:803px;width:404px;height:49px;justify-content:center;"><span>PHL5/PHL6/TPA2/PIT2/ILG1/DCA6/IUST/AVP3/AVP9/WBW2</span></div>
<div class="t cty" style="left:493px;top:803px;width:107px;height:49px;justify-content:center;"><span>美国<span class="us">(US)</span></span></div>
<div class="t wt up" style="left:601px;top:803px;width:65px;height:49px;justify-content:center;"><span>12KG+</span></div>
<div class="t price" style="left:667px;top:803px;width:94px;height:49px;justify-content:center;"><span>10</span></div>
<div class="t wt" style="left:762px;top:803px;width:66px;height:49px;justify-content:center;"><span>51kg+</span></div>
<div class="t price" style="left:829px;top:803px;width:93px;height:49px;justify-content:center;"><span>9</span></div>
<div class="t wt up" style="left:923px;top:803px;width:63px;height:49px;justify-content:center;"><span>12KG+</span></div>
<div class="t price" style="left:987px;top:803px;width:93px;height:49px;justify-content:center;"><span>10.2</span></div>
<div class="t wt" style="left:1081px;top:803px;width:57px;height:49px;justify-content:center;"><span>51kg+</span></div>
<div class="t price" style="left:1139px;top:803px;width:93px;height:49px;justify-content:center;"><span>9.2</span></div>
<div class="t days" style="left:1316px;top:803px;width:89px;height:49px;justify-content:center;"><span>26-31天</span></div>
<div class="t chan" style="left:1px;top:183px;width:86px;height:669px;justify-content:center;"><span>普船洛杉矶卡<br>派A区<br><span class="mag">船司：OA，<br>ZIM，合德普<br>提</span></span></div>
<div class="t jd" style="left:1233px;top:183px;width:82px;height:669px;justify-content:flex-start;padding-left:8px;"><span>参照船期表</span></div>
<div class="t bz" style="left:1406px;top:183px;width:130px;height:158px;justify-content:center;"><span>洛杉矶直航<br>航程15天左右（无<br>时效赔付）<br>注意：此渠道拦截费<br>2000USD</span></div>
<div class="t bz" style="left:1406px;top:342px;width:130px;height:510px;justify-content:center;"><span>洛杉矶直航<br>航程15天左右（无时<br>效赔付）<br>&nbsp;</span></div>
<div style="left:0px;top:852px;width:1px;height:13px;background:#000;"></div>
<div style="left:1536px;top:852px;width:1px;height:13px;background:#000;"></div>
<div style="left:1px;top:865px;width:86px;height:40px;background:#E8ECF8;box-shadow:inset 0 0 0 1px #F6F8FD"></div>
<div style="left:88px;top:865px;width:404px;height:40px;background:#E8ECF8;box-shadow:inset 0 0 0 1px #F6F8FD"></div>
<div style="left:493px;top:865px;width:107px;height:40px;background:#E8ECF8;box-shadow:inset 0 0 0 1px #F6F8FD"></div>
<div style="left:601px;top:865px;width:65px;height:40px;background:#DAE2F3;box-shadow:inset 0 0 0 1px #F6F8FD"></div>
<div style="left:667px;top:865px;width:94px;height:40px;background:#DAE2F3;box-shadow:inset 0 0 0 1px #F6F8FD"></div>
<div style="left:762px;top:865px;width:66px;height:40px;background:#DAE2F3;box-shadow:inset 0 0 0 1px #F6F8FD"></div>
<div style="left:829px;top:865px;width:93px;height:40px;background:#DAE2F3;box-shadow:inset 0 0 0 1px #F6F8FD"></div>
<div style="left:923px;top:865px;width:63px;height:40px;background:#DAE2F3;box-shadow:inset 0 0 0 1px #F6F8FD"></div>
<div style="left:987px;top:865px;width:93px;height:40px;background:#DAE2F3;box-shadow:inset 0 0 0 1px #F6F8FD"></div>
<div style="left:1081px;top:865px;width:57px;height:40px;background:#DAE2F3;box-shadow:inset 0 0 0 1px #F6F8FD"></div>
<div style="left:1139px;top:865px;width:93px;height:40px;background:#DAE2F3;box-shadow:inset 0 0 0 1px #F6F8FD"></div>
<div style="left:0px;top:864px;width:1537px;height:1px;background:#000;"></div>
<div style="left:0px;top:905px;width:1537px;height:1px;background:#000;"></div>
<div style="left:1px;top:865px;width:1px;height:40px;background:#8EA9DB;"></div>
<div style="left:1535px;top:865px;width:1px;height:40px;background:#8EA9DB;"></div>
<div style="left:87px;top:865px;width:0;height:40px;border-left:1px dotted #4472C4;"></div>
<div style="left:492px;top:865px;width:0;height:40px;border-left:1px dotted #4472C4;"></div>
<div style="left:600px;top:864px;width:1px;height:42px;background:#000;"></div>
<div style="left:666px;top:864px;width:1px;height:42px;background:#000;"></div>
<div style="left:761px;top:864px;width:1px;height:42px;background:#000;"></div>
<div style="left:828px;top:864px;width:1px;height:42px;background:#000;"></div>
<div style="left:922px;top:864px;width:1px;height:42px;background:#000;"></div>
<div style="left:986px;top:864px;width:1px;height:42px;background:#000;"></div>
<div style="left:1080px;top:864px;width:1px;height:42px;background:#000;"></div>
<div style="left:1138px;top:864px;width:1px;height:42px;background:#000;"></div>
<div style="left:1232px;top:865px;width:0;height:40px;border-left:1px dotted #4472C4;"></div>
<div style="left:1315px;top:865px;width:0;height:40px;border-left:1px dotted #4472C4;"></div>
<div style="left:1405px;top:865px;width:0;height:40px;border-left:1px dotted #4472C4;"></div>
<div class="t hb15" style="left:1px;top:865px;width:86px;height:40px;justify-content:center;"><span>渠道名称</span></div>
<div class="t hb15" style="left:88px;top:865px;width:404px;height:40px;justify-content:center;"><span>仓库代码</span></div>
<div class="t hb15" style="left:493px;top:865px;width:107px;height:40px;justify-content:center;"><span>目的国家</span></div>
<div class="t hb12" style="left:601px;top:865px;width:65px;height:40px;justify-content:center;"><span>起收重量</span></div>
<div class="t hb15" style="left:667px;top:865px;width:94px;height:40px;justify-content:center;"><span>单价</span></div>
<div class="t hb12" style="left:762px;top:865px;width:66px;height:40px;justify-content:center;"><span>起收重量</span></div>
<div class="t hb15" style="left:829px;top:865px;width:93px;height:40px;justify-content:center;"><span>单价</span></div>
<div class="t hb12" style="left:923px;top:865px;width:63px;height:40px;justify-content:center;"><span>起收重量</span></div>
<div class="t hb15" style="left:987px;top:865px;width:93px;height:40px;justify-content:center;"><span>单价</span></div>
<div class="t hb12" style="left:1081px;top:865px;width:57px;height:40px;justify-content:center;"><span>起收重量</span></div>
<div class="t hb15" style="left:1139px;top:865px;width:93px;height:40px;justify-content:center;"><span>单价</span></div>
<div class="t hb15" style="left:1233px;top:865px;width:82px;height:40px;justify-content:center;"><span>截单/开船</span></div>
<div class="t hb15 lh19" style="left:1316px;top:865px;width:89px;height:40px;justify-content:center;"><span>参考时效<br>(开船后)</span></div>
<div class="t hb15" style="left:1406px;top:865px;width:130px;height:40px;justify-content:center;"><span>备注</span></div>
<div style="left:1px;top:906px;width:86px;height:141px;background:#E8ECF8;box-shadow:inset 0 0 0 1px #F6F8FD"></div>
<div style="left:88px;top:906px;width:404px;height:29px;background:#E8ECF8;box-shadow:inset 0 0 0 1px #F6F8FD"></div>
<div style="left:493px;top:906px;width:107px;height:29px;background:#E8ECF8;box-shadow:inset 0 0 0 1px #F6F8FD"></div>
<div style="left:667px;top:906px;width:94px;height:29px;background:#E8ECF8;box-shadow:inset 0 0 0 1px #F6F8FD"></div>
<div style="left:829px;top:906px;width:93px;height:29px;background:#E8ECF8;box-shadow:inset 0 0 0 1px #F6F8FD"></div>
<div style="left:987px;top:906px;width:93px;height:29px;background:#E8ECF8;box-shadow:inset 0 0 0 1px #F6F8FD"></div>
<div style="left:1139px;top:906px;width:93px;height:29px;background:#E8ECF8;box-shadow:inset 0 0 0 1px #F6F8FD"></div>
<div style="left:88px;top:936px;width:404px;height:51px;background:#E8ECF8;box-shadow:inset 0 0 0 1px #F6F8FD"></div>
<div style="left:493px;top:936px;width:107px;height:51px;background:#E8ECF8;box-shadow:inset 0 0 0 1px #F6F8FD"></div>
<div style="left:667px;top:936px;width:94px;height:51px;background:#E8ECF8;box-shadow:inset 0 0 0 1px #F6F8FD"></div>
<div style="left:829px;top:936px;width:93px;height:51px;background:#E8ECF8;box-shadow:inset 0 0 0 1px #F6F8FD"></div>
<div style="left:987px;top:936px;width:93px;height:51px;background:#E8ECF8;box-shadow:inset 0 0 0 1px #F6F8FD"></div>
<div style="left:1139px;top:936px;width:93px;height:51px;background:#E8ECF8;box-shadow:inset 0 0 0 1px #F6F8FD"></div>
<div style="left:88px;top:988px;width:404px;height:29px;background:#E8ECF8;box-shadow:inset 0 0 0 1px #F6F8FD"></div>
<div style="left:493px;top:988px;width:107px;height:29px;background:#E8ECF8;box-shadow:inset 0 0 0 1px #F6F8FD"></div>
<div style="left:667px;top:988px;width:94px;height:29px;background:#E8ECF8;box-shadow:inset 0 0 0 1px #F6F8FD"></div>
<div style="left:829px;top:988px;width:93px;height:29px;background:#E8ECF8;box-shadow:inset 0 0 0 1px #F6F8FD"></div>
<div style="left:987px;top:988px;width:93px;height:29px;background:#E8ECF8;box-shadow:inset 0 0 0 1px #F6F8FD"></div>
<div style="left:1139px;top:988px;width:93px;height:29px;background:#E8ECF8;box-shadow:inset 0 0 0 1px #F6F8FD"></div>
<div style="left:88px;top:1018px;width:404px;height:29px;background:#E8ECF8;box-shadow:inset 0 0 0 1px #F6F8FD"></div>
<div style="left:493px;top:1018px;width:107px;height:29px;background:#E8ECF8;box-shadow:inset 0 0 0 1px #F6F8FD"></div>
<div style="left:667px;top:1018px;width:94px;height:29px;background:#E8ECF8;box-shadow:inset 0 0 0 1px #F6F8FD"></div>
<div style="left:829px;top:1018px;width:93px;height:29px;background:#E8ECF8;box-shadow:inset 0 0 0 1px #F6F8FD"></div>
<div style="left:987px;top:1018px;width:93px;height:29px;background:#E8ECF8;box-shadow:inset 0 0 0 1px #F6F8FD"></div>
<div style="left:1139px;top:1018px;width:93px;height:29px;background:#E8ECF8;box-shadow:inset 0 0 0 1px #F6F8FD"></div>
<div style="left:0px;top:905px;width:1537px;height:1px;background:#000;"></div>
<div style="left:0px;top:1047px;width:1537px;height:1px;background:#000;"></div>
<div style="left:87px;top:935px;width:1146px;height:1px;background:#000;"></div>
<div style="left:1315px;top:935px;width:91px;height:1px;background:#000;"></div>
<div style="left:87px;top:987px;width:1146px;height:1px;background:#000;"></div>
<div style="left:1315px;top:987px;width:91px;height:1px;background:#000;"></div>
<div style="left:87px;top:1017px;width:1146px;height:1px;background:#000;"></div>
<div style="left:1315px;top:1017px;width:91px;height:1px;background:#000;"></div>
<div style="left:0px;top:905px;width:1px;height:143px;background:#000;"></div>
<div style="left:87px;top:905px;width:1px;height:143px;background:#000;"></div>
<div style="left:492px;top:905px;width:1px;height:143px;background:#000;"></div>
<div style="left:600px;top:905px;width:1px;height:143px;background:#000;"></div>
<div style="left:666px;top:905px;width:1px;height:143px;background:#000;"></div>
<div style="left:761px;top:905px;width:1px;height:143px;background:#000;"></div>
<div style="left:828px;top:905px;width:1px;height:143px;background:#000;"></div>
<div style="left:922px;top:905px;width:1px;height:143px;background:#000;"></div>
<div style="left:986px;top:905px;width:1px;height:143px;background:#000;"></div>
<div style="left:1080px;top:905px;width:1px;height:143px;background:#000;"></div>
<div style="left:1138px;top:905px;width:1px;height:143px;background:#000;"></div>
<div style="left:1232px;top:905px;width:1px;height:143px;background:#000;"></div>
<div style="left:1315px;top:905px;width:1px;height:143px;background:#000;"></div>
<div style="left:1405px;top:905px;width:1px;height:143px;background:#000;"></div>
<div style="left:1536px;top:905px;width:1px;height:143px;background:#000;"></div>
<div class="t code c13" style="left:88px;top:906px;width:404px;height:29px;justify-content:center;"><span>TCY1，TCY2</span></div>
<div class="t cty" style="left:493px;top:906px;width:107px;height:29px;justify-content:center;"><span>美国<span class="us">(US)</span></span></div>
<div class="t wt up" style="left:601px;top:906px;width:65px;height:29px;justify-content:center;"><span>12KG+</span></div>
<div class="t price" style="left:667px;top:906px;width:94px;height:29px;justify-content:center;"><span>6.8</span></div>
<div class="t wt" style="left:762px;top:906px;width:66px;height:29px;justify-content:center;"><span>50kg+</span></div>
<div class="t price" style="left:829px;top:906px;width:93px;height:29px;justify-content:center;"><span>5.8</span></div>
<div class="t wt up" style="left:923px;top:906px;width:63px;height:29px;justify-content:center;"><span>12KG+</span></div>
<div class="t price" style="left:987px;top:906px;width:93px;height:29px;justify-content:center;"><span>7</span></div>
<div class="t wt" style="left:1081px;top:906px;width:57px;height:29px;justify-content:center;"><span>50kg+</span></div>
<div class="t price" style="left:1139px;top:906px;width:93px;height:29px;justify-content:center;"><span>6</span></div>
<div class="t days" style="left:1316px;top:906px;width:89px;height:29px;justify-content:center;"><span>22-30天</span></div>
<div class="t code c13" style="left:88px;top:936px;width:404px;height:51px;justify-content:center;"><span>SMF3，QXY5，OAK3,SJC7，SCK1，SCK3，SCK4，SCK8,HLI2，<br>MCE1</span></div>
<div class="t cty" style="left:493px;top:936px;width:107px;height:51px;justify-content:center;"><span>美国<span class="us">(US)</span></span></div>
<div class="t wt up" style="left:601px;top:936px;width:65px;height:51px;justify-content:center;"><span>12KG+</span></div>
<div class="t price" style="left:667px;top:936px;width:94px;height:51px;justify-content:center;"><span>7.3</span></div>
<div class="t wt" style="left:762px;top:936px;width:66px;height:51px;justify-content:center;"><span>50kg+</span></div>
<div class="t price" style="left:829px;top:936px;width:93px;height:51px;justify-content:center;"><span>6.3</span></div>
<div class="t wt up" style="left:923px;top:936px;width:63px;height:51px;justify-content:center;"><span>12KG+</span></div>
<div class="t price" style="left:987px;top:936px;width:93px;height:51px;justify-content:center;"><span>7.5</span></div>
<div class="t wt" style="left:1081px;top:936px;width:57px;height:51px;justify-content:center;"><span>50kg+</span></div>
<div class="t price" style="left:1139px;top:936px;width:93px;height:51px;justify-content:center;"><span>6.5</span></div>
<div class="t days" style="left:1316px;top:936px;width:89px;height:51px;justify-content:center;"><span>22-30天</span></div>
<div class="t code c13" style="left:88px;top:988px;width:404px;height:29px;justify-content:center;"><span>SMF6，SMF7，MCC1</span></div>
<div class="t cty" style="left:493px;top:988px;width:107px;height:29px;justify-content:center;"><span>美国<span class="us">(US)</span></span></div>
<div class="t wt up" style="left:601px;top:988px;width:65px;height:29px;justify-content:center;"><span>12KG+</span></div>
<div class="t price" style="left:667px;top:988px;width:94px;height:29px;justify-content:center;"><span>7.6</span></div>
<div class="t wt" style="left:762px;top:988px;width:66px;height:29px;justify-content:center;"><span>50kg+</span></div>
<div class="t price" style="left:829px;top:988px;width:93px;height:29px;justify-content:center;"><span>6.6</span></div>
<div class="t wt up" style="left:923px;top:988px;width:63px;height:29px;justify-content:center;"><span>12KG+</span></div>
<div class="t price" style="left:987px;top:988px;width:93px;height:29px;justify-content:center;"><span>7.8</span></div>
<div class="t wt" style="left:1081px;top:988px;width:57px;height:29px;justify-content:center;"><span>50kg+</span></div>
<div class="t price" style="left:1139px;top:988px;width:93px;height:29px;justify-content:center;"><span>6.8</span></div>
<div class="t days" style="left:1316px;top:988px;width:89px;height:29px;justify-content:center;"><span>24-30天</span></div>
<div class="t code c13" style="left:88px;top:1018px;width:404px;height:29px;justify-content:center;"><span>FAT2，RNO4，BFL2</span></div>
<div class="t cty" style="left:493px;top:1018px;width:107px;height:29px;justify-content:center;"><span>美国<span class="us">(US)</span></span></div>
<div class="t wt up" style="left:601px;top:1018px;width:65px;height:29px;justify-content:center;"><span>12KG+</span></div>
<div class="t price" style="left:667px;top:1018px;width:94px;height:29px;justify-content:center;"><span>7.7</span></div>
<div class="t wt" style="left:762px;top:1018px;width:66px;height:29px;justify-content:center;"><span>50kg+</span></div>
<div class="t price" style="left:829px;top:1018px;width:93px;height:29px;justify-content:center;"><span>6.7</span></div>
<div class="t wt up" style="left:923px;top:1018px;width:63px;height:29px;justify-content:center;"><span>12KG+</span></div>
<div class="t price" style="left:987px;top:1018px;width:93px;height:29px;justify-content:center;"><span>7.9</span></div>
<div class="t wt" style="left:1081px;top:1018px;width:57px;height:29px;justify-content:center;"><span>50kg+</span></div>
<div class="t price" style="left:1139px;top:1018px;width:93px;height:29px;justify-content:center;"><span>6.9</span></div>
<div class="t days" style="left:1316px;top:1018px;width:89px;height:29px;justify-content:center;"><span>25-30天</span></div>
<div class="t chan" style="left:1px;top:906px;width:86px;height:141px;justify-content:center;"><span>普船奥克兰卡<br>派</span></div>
<div class="t jd" style="left:1233px;top:906px;width:82px;height:141px;justify-content:flex-start;padding-left:8px;"><span>每周四开船</span></div>
<div class="t bz" style="left:1406px;top:906px;width:130px;height:141px;justify-content:center;"><span>线路：上海<svg class="ar" width="13" height="9" viewBox="0 0 13 9"><path d="M0 4.5H12.2M8.8 1.2L12.2 4.5L8.8 7.8" stroke="#FF0000" stroke-width="1.15" fill="none"/></svg><svg class="ar" width="13" height="9" viewBox="0 0 13 9"><path d="M0 4.5H12.2M8.8 1.2L12.2 4.5L8.8 7.8" stroke="#FF0000" stroke-width="1.15" fill="none"/></svg>洛杉<br>矶<svg class="ar" width="13" height="9" viewBox="0 0 13 9"><path d="M0 4.5H12.2M8.8 1.2L12.2 4.5L8.8 7.8" stroke="#FF0000" stroke-width="1.15" fill="none"/></svg><svg class="ar" width="13" height="9" viewBox="0 0 13 9"><path d="M0 4.5H12.2M8.8 1.2L12.2 4.5L8.8 7.8" stroke="#FF0000" stroke-width="1.15" fill="none"/></svg>奥克兰<br>全程20-22天</span></div>
<div style="left:0px;top:1047px;width:1px;height:13px;background:#000;"></div>
<div style="left:1536px;top:1047px;width:1px;height:13px;background:#000;"></div>
<div style="left:1px;top:1060px;width:86px;height:119px;background:#E8ECF8;box-shadow:inset 0 0 0 1px #F6F8FD"></div>
<div style="left:88px;top:1060px;width:404px;height:29px;background:#E8ECF8;box-shadow:inset 0 0 0 1px #F6F8FD"></div>
<div style="left:493px;top:1060px;width:107px;height:29px;background:#E8ECF8;box-shadow:inset 0 0 0 1px #F6F8FD"></div>
<div style="left:667px;top:1060px;width:94px;height:29px;background:#E8ECF8;box-shadow:inset 0 0 0 1px #F6F8FD"></div>
<div style="left:829px;top:1060px;width:93px;height:29px;background:#E8ECF8;box-shadow:inset 0 0 0 1px #F6F8FD"></div>
<div style="left:987px;top:1060px;width:93px;height:29px;background:#E8ECF8;box-shadow:inset 0 0 0 1px #F6F8FD"></div>
<div style="left:1139px;top:1060px;width:93px;height:29px;background:#E8ECF8;box-shadow:inset 0 0 0 1px #F6F8FD"></div>
<div style="left:88px;top:1090px;width:404px;height:29px;background:#E8ECF8;box-shadow:inset 0 0 0 1px #F6F8FD"></div>
<div style="left:493px;top:1090px;width:107px;height:29px;background:#E8ECF8;box-shadow:inset 0 0 0 1px #F6F8FD"></div>
<div style="left:667px;top:1090px;width:94px;height:29px;background:#E8ECF8;box-shadow:inset 0 0 0 1px #F6F8FD"></div>
<div style="left:829px;top:1090px;width:93px;height:29px;background:#E8ECF8;box-shadow:inset 0 0 0 1px #F6F8FD"></div>
<div style="left:987px;top:1090px;width:93px;height:29px;background:#E8ECF8;box-shadow:inset 0 0 0 1px #F6F8FD"></div>
<div style="left:1139px;top:1090px;width:93px;height:29px;background:#E8ECF8;box-shadow:inset 0 0 0 1px #F6F8FD"></div>
<div style="left:88px;top:1120px;width:404px;height:29px;background:#E8ECF8;box-shadow:inset 0 0 0 1px #F6F8FD"></div>
<div style="left:493px;top:1120px;width:107px;height:29px;background:#E8ECF8;box-shadow:inset 0 0 0 1px #F6F8FD"></div>
<div style="left:667px;top:1120px;width:94px;height:29px;background:#E8ECF8;box-shadow:inset 0 0 0 1px #F6F8FD"></div>
<div style="left:829px;top:1120px;width:93px;height:29px;background:#E8ECF8;box-shadow:inset 0 0 0 1px #F6F8FD"></div>
<div style="left:987px;top:1120px;width:93px;height:29px;background:#E8ECF8;box-shadow:inset 0 0 0 1px #F6F8FD"></div>
<div style="left:1139px;top:1120px;width:93px;height:29px;background:#E8ECF8;box-shadow:inset 0 0 0 1px #F6F8FD"></div>
<div style="left:88px;top:1150px;width:404px;height:29px;background:#E8ECF8;box-shadow:inset 0 0 0 1px #F6F8FD"></div>
<div style="left:493px;top:1150px;width:107px;height:29px;background:#E8ECF8;box-shadow:inset 0 0 0 1px #F6F8FD"></div>
<div style="left:667px;top:1150px;width:94px;height:29px;background:#E8ECF8;box-shadow:inset 0 0 0 1px #F6F8FD"></div>
<div style="left:829px;top:1150px;width:93px;height:29px;background:#E8ECF8;box-shadow:inset 0 0 0 1px #F6F8FD"></div>
<div style="left:987px;top:1150px;width:93px;height:29px;background:#E8ECF8;box-shadow:inset 0 0 0 1px #F6F8FD"></div>
<div style="left:1139px;top:1150px;width:93px;height:29px;background:#E8ECF8;box-shadow:inset 0 0 0 1px #F6F8FD"></div>
<div style="left:0px;top:1059px;width:1537px;height:1px;background:#000;"></div>
<div style="left:0px;top:1179px;width:1537px;height:1px;background:#000;"></div>
<div style="left:87px;top:1089px;width:1146px;height:1px;background:#000;"></div>
<div style="left:1315px;top:1089px;width:91px;height:1px;background:#000;"></div>
<div style="left:87px;top:1119px;width:1146px;height:1px;background:#000;"></div>
<div style="left:1315px;top:1119px;width:91px;height:1px;background:#000;"></div>
<div style="left:87px;top:1149px;width:1146px;height:1px;background:#000;"></div>
<div style="left:1315px;top:1149px;width:91px;height:1px;background:#000;"></div>
<div style="left:0px;top:1059px;width:1px;height:121px;background:#000;"></div>
<div style="left:87px;top:1059px;width:1px;height:121px;background:#000;"></div>
<div style="left:492px;top:1059px;width:1px;height:121px;background:#000;"></div>
<div style="left:600px;top:1059px;width:1px;height:121px;background:#000;"></div>
<div style="left:666px;top:1059px;width:1px;height:121px;background:#000;"></div>
<div style="left:761px;top:1059px;width:1px;height:121px;background:#000;"></div>
<div style="left:828px;top:1059px;width:1px;height:121px;background:#000;"></div>
<div style="left:922px;top:1059px;width:1px;height:121px;background:#000;"></div>
<div style="left:986px;top:1059px;width:1px;height:121px;background:#000;"></div>
<div style="left:1080px;top:1059px;width:1px;height:121px;background:#000;"></div>
<div style="left:1138px;top:1059px;width:1px;height:121px;background:#000;"></div>
<div style="left:1232px;top:1059px;width:1px;height:121px;background:#000;"></div>
<div style="left:1315px;top:1059px;width:1px;height:121px;background:#000;"></div>
<div style="left:1405px;top:1059px;width:1px;height:121px;background:#000;"></div>
<div style="left:1536px;top:1059px;width:1px;height:121px;background:#000;"></div>
<div class="t code " style="left:88px;top:1060px;width:404px;height:29px;justify-content:center;"><span>MDW2/MDW6/MDW9/ORD2/IGQ2/MDW8/RFD2</span></div>
<div class="t cty" style="left:493px;top:1060px;width:107px;height:29px;justify-content:center;"><span>美国<span class="us">(US)</span></span></div>
<div class="t wt up" style="left:601px;top:1060px;width:65px;height:29px;justify-content:center;"><span>12KG+</span></div>
<div class="t price" style="left:667px;top:1060px;width:94px;height:29px;justify-content:center;"><span>8.7</span></div>
<div class="t wt" style="left:762px;top:1060px;width:66px;height:29px;justify-content:center;"><span>50kg+</span></div>
<div class="t price" style="left:829px;top:1060px;width:93px;height:29px;justify-content:center;"><span>7.7</span></div>
<div class="t wt up" style="left:923px;top:1060px;width:63px;height:29px;justify-content:center;"><span>12KG+</span></div>
<div class="t price" style="left:987px;top:1060px;width:93px;height:29px;justify-content:center;"><span>8.9</span></div>
<div class="t wt" style="left:1081px;top:1060px;width:57px;height:29px;justify-content:center;"><span>50kg+</span></div>
<div class="t price" style="left:1139px;top:1060px;width:93px;height:29px;justify-content:center;"><span>7.9</span></div>
<div class="t days" style="left:1316px;top:1060px;width:89px;height:29px;justify-content:center;"><span>28-42</span></div>
<div class="t code " style="left:88px;top:1090px;width:404px;height:29px;justify-content:center;"><span>IND2/IND4/IND9/MQJ1/FWA4/STL4</span></div>
<div class="t cty" style="left:493px;top:1090px;width:107px;height:29px;justify-content:center;"><span>美国<span class="us">(US)</span></span></div>
<div class="t wt up" style="left:601px;top:1090px;width:65px;height:29px;justify-content:center;"><span>12KG+</span></div>
<div class="t price" style="left:667px;top:1090px;width:94px;height:29px;justify-content:center;"><span>9.1</span></div>
<div class="t wt" style="left:762px;top:1090px;width:66px;height:29px;justify-content:center;"><span>50kg+</span></div>
<div class="t price" style="left:829px;top:1090px;width:93px;height:29px;justify-content:center;"><span>8.1</span></div>
<div class="t wt up" style="left:923px;top:1090px;width:63px;height:29px;justify-content:center;"><span>12KG+</span></div>
<div class="t price" style="left:987px;top:1090px;width:93px;height:29px;justify-content:center;"><span>9.3</span></div>
<div class="t wt" style="left:1081px;top:1090px;width:57px;height:29px;justify-content:center;"><span>50kg+</span></div>
<div class="t price" style="left:1139px;top:1090px;width:93px;height:29px;justify-content:center;"><span>8.3</span></div>
<div class="t days" style="left:1316px;top:1090px;width:89px;height:29px;justify-content:center;"><span>28-42</span></div>
<div class="t code " style="left:88px;top:1120px;width:404px;height:29px;justify-content:center;"><span>DET1/DET2/CMH2/CMH3</span></div>
<div class="t cty" style="left:493px;top:1120px;width:107px;height:29px;justify-content:center;"><span>美国<span class="us">(US)</span></span></div>
<div class="t wt up" style="left:601px;top:1120px;width:65px;height:29px;justify-content:center;"><span>12KG+</span></div>
<div class="t price" style="left:667px;top:1120px;width:94px;height:29px;justify-content:center;"><span>9.7</span></div>
<div class="t wt" style="left:762px;top:1120px;width:66px;height:29px;justify-content:center;"><span>50kg+</span></div>
<div class="t price" style="left:829px;top:1120px;width:93px;height:29px;justify-content:center;"><span>8.7</span></div>
<div class="t wt up" style="left:923px;top:1120px;width:63px;height:29px;justify-content:center;"><span>12KG+</span></div>
<div class="t price" style="left:987px;top:1120px;width:93px;height:29px;justify-content:center;"><span>9.9</span></div>
<div class="t wt" style="left:1081px;top:1120px;width:57px;height:29px;justify-content:center;"><span>50kg+</span></div>
<div class="t price" style="left:1139px;top:1120px;width:93px;height:29px;justify-content:center;"><span>8.9</span></div>
<div class="t days" style="left:1316px;top:1120px;width:89px;height:29px;justify-content:center;"><span>28-42</span></div>
<div class="t code " style="left:88px;top:1150px;width:404px;height:29px;justify-content:center;"><span>STL3/FOE1/MCI1/MKC4</span></div>
<div class="t cty" style="left:493px;top:1150px;width:107px;height:29px;justify-content:center;"><span>美国<span class="us">(US)</span></span></div>
<div class="t wt up" style="left:601px;top:1150px;width:65px;height:29px;justify-content:center;"><span>12KG+</span></div>
<div class="t price" style="left:667px;top:1150px;width:94px;height:29px;justify-content:center;"><span>10.4</span></div>
<div class="t wt" style="left:762px;top:1150px;width:66px;height:29px;justify-content:center;"><span>50kg+</span></div>
<div class="t price" style="left:829px;top:1150px;width:93px;height:29px;justify-content:center;"><span>9.4</span></div>
<div class="t wt up" style="left:923px;top:1150px;width:63px;height:29px;justify-content:center;"><span>12KG+</span></div>
<div class="t price" style="left:987px;top:1150px;width:93px;height:29px;justify-content:center;"><span>10.6</span></div>
<div class="t wt" style="left:1081px;top:1150px;width:57px;height:29px;justify-content:center;"><span>50kg+</span></div>
<div class="t price" style="left:1139px;top:1150px;width:93px;height:29px;justify-content:center;"><span>9.6</span></div>
<div class="t days" style="left:1316px;top:1150px;width:89px;height:29px;justify-content:center;"><span>28-42</span></div>
<div class="t chan" style="left:1px;top:1060px;width:86px;height:119px;justify-content:center;"><span>普船芝加哥卡<br>派</span></div>
<div class="t jd" style="left:1233px;top:1060px;width:82px;height:119px;justify-content:flex-start;padding-left:8px;"><span>每周四开船</span></div>
<div class="t bz" style="left:1406px;top:1060px;width:130px;height:119px;justify-content:center;"><span>线路：上海<svg class="ar" width="13" height="9" viewBox="0 0 13 9"><path d="M0 4.5H12.2M8.8 1.2L12.2 4.5L8.8 7.8" stroke="#FF0000" stroke-width="1.15" fill="none"/></svg><svg class="ar" width="13" height="9" viewBox="0 0 13 9"><path d="M0 4.5H12.2M8.8 1.2L12.2 4.5L8.8 7.8" stroke="#FF0000" stroke-width="1.15" fill="none"/></svg>洛杉<br>矶<svg class="ar" width="13" height="9" viewBox="0 0 13 9"><path d="M0 4.5H12.2M8.8 1.2L12.2 4.5L8.8 7.8" stroke="#FF0000" stroke-width="1.15" fill="none"/></svg><svg class="ar" width="13" height="9" viewBox="0 0 13 9"><path d="M0 4.5H12.2M8.8 1.2L12.2 4.5L8.8 7.8" stroke="#FF0000" stroke-width="1.15" fill="none"/></svg>芝加哥火车站<br>全程28-35天</span></div>
<div style="left:0px;top:1179px;width:1px;height:13px;background:#000;"></div>
<div style="left:1536px;top:1179px;width:1px;height:13px;background:#000;"></div>
<div style="left:1px;top:1192px;width:86px;height:119px;background:#E8ECF8;box-shadow:inset 0 0 0 1px #F6F8FD"></div>
<div style="left:88px;top:1192px;width:404px;height:29px;background:#E8ECF8;box-shadow:inset 0 0 0 1px #F6F8FD"></div>
<div style="left:493px;top:1192px;width:107px;height:29px;background:#E8ECF8;box-shadow:inset 0 0 0 1px #F6F8FD"></div>
<div style="left:667px;top:1192px;width:94px;height:29px;background:#E8ECF8;box-shadow:inset 0 0 0 1px #F6F8FD"></div>
<div style="left:829px;top:1192px;width:93px;height:29px;background:#E8ECF8;box-shadow:inset 0 0 0 1px #F6F8FD"></div>
<div style="left:987px;top:1192px;width:93px;height:29px;background:#E8ECF8;box-shadow:inset 0 0 0 1px #F6F8FD"></div>
<div style="left:1139px;top:1192px;width:93px;height:29px;background:#E8ECF8;box-shadow:inset 0 0 0 1px #F6F8FD"></div>
<div style="left:88px;top:1222px;width:404px;height:29px;background:#E8ECF8;box-shadow:inset 0 0 0 1px #F6F8FD"></div>
<div style="left:493px;top:1222px;width:107px;height:29px;background:#E8ECF8;box-shadow:inset 0 0 0 1px #F6F8FD"></div>
<div style="left:667px;top:1222px;width:94px;height:29px;background:#E8ECF8;box-shadow:inset 0 0 0 1px #F6F8FD"></div>
<div style="left:829px;top:1222px;width:93px;height:29px;background:#E8ECF8;box-shadow:inset 0 0 0 1px #F6F8FD"></div>
<div style="left:987px;top:1222px;width:93px;height:29px;background:#E8ECF8;box-shadow:inset 0 0 0 1px #F6F8FD"></div>
<div style="left:1139px;top:1222px;width:93px;height:29px;background:#E8ECF8;box-shadow:inset 0 0 0 1px #F6F8FD"></div>
<div style="left:88px;top:1252px;width:404px;height:29px;background:#E8ECF8;box-shadow:inset 0 0 0 1px #F6F8FD"></div>
<div style="left:493px;top:1252px;width:107px;height:29px;background:#E8ECF8;box-shadow:inset 0 0 0 1px #F6F8FD"></div>
<div style="left:667px;top:1252px;width:94px;height:29px;background:#E8ECF8;box-shadow:inset 0 0 0 1px #F6F8FD"></div>
<div style="left:829px;top:1252px;width:93px;height:29px;background:#E8ECF8;box-shadow:inset 0 0 0 1px #F6F8FD"></div>
<div style="left:987px;top:1252px;width:93px;height:29px;background:#E8ECF8;box-shadow:inset 0 0 0 1px #F6F8FD"></div>
<div style="left:1139px;top:1252px;width:93px;height:29px;background:#E8ECF8;box-shadow:inset 0 0 0 1px #F6F8FD"></div>
<div style="left:88px;top:1282px;width:404px;height:29px;background:#E8ECF8;box-shadow:inset 0 0 0 1px #F6F8FD"></div>
<div style="left:493px;top:1282px;width:107px;height:29px;background:#E8ECF8;box-shadow:inset 0 0 0 1px #F6F8FD"></div>
<div style="left:667px;top:1282px;width:94px;height:29px;background:#E8ECF8;box-shadow:inset 0 0 0 1px #F6F8FD"></div>
<div style="left:829px;top:1282px;width:93px;height:29px;background:#E8ECF8;box-shadow:inset 0 0 0 1px #F6F8FD"></div>
<div style="left:987px;top:1282px;width:93px;height:29px;background:#E8ECF8;box-shadow:inset 0 0 0 1px #F6F8FD"></div>
<div style="left:1139px;top:1282px;width:93px;height:29px;background:#E8ECF8;box-shadow:inset 0 0 0 1px #F6F8FD"></div>
<div style="left:0px;top:1191px;width:1537px;height:1px;background:#000;"></div>
<div style="left:0px;top:1311px;width:1537px;height:1px;background:#000;"></div>
<div style="left:87px;top:1221px;width:1146px;height:1px;background:#000;"></div>
<div style="left:1315px;top:1221px;width:91px;height:1px;background:#000;"></div>
<div style="left:87px;top:1251px;width:1146px;height:1px;background:#000;"></div>
<div style="left:1315px;top:1251px;width:91px;height:1px;background:#000;"></div>
<div style="left:87px;top:1281px;width:1146px;height:1px;background:#000;"></div>
<div style="left:1315px;top:1281px;width:91px;height:1px;background:#000;"></div>
<div style="left:0px;top:1191px;width:1px;height:121px;background:#000;"></div>
<div style="left:87px;top:1191px;width:1px;height:121px;background:#000;"></div>
<div style="left:492px;top:1191px;width:1px;height:121px;background:#000;"></div>
<div style="left:600px;top:1191px;width:1px;height:121px;background:#000;"></div>
<div style="left:666px;top:1191px;width:1px;height:121px;background:#000;"></div>
<div style="left:761px;top:1191px;width:1px;height:121px;background:#000;"></div>
<div style="left:828px;top:1191px;width:1px;height:121px;background:#000;"></div>
<div style="left:922px;top:1191px;width:1px;height:121px;background:#000;"></div>
<div style="left:986px;top:1191px;width:1px;height:121px;background:#000;"></div>
<div style="left:1080px;top:1191px;width:1px;height:121px;background:#000;"></div>
<div style="left:1138px;top:1191px;width:1px;height:121px;background:#000;"></div>
<div style="left:1232px;top:1191px;width:1px;height:121px;background:#000;"></div>
<div style="left:1315px;top:1191px;width:1px;height:121px;background:#000;"></div>
<div style="left:1405px;top:1191px;width:1px;height:121px;background:#000;"></div>
<div style="left:1536px;top:1191px;width:1px;height:121px;background:#000;"></div>
<div class="t code " style="left:88px;top:1192px;width:404px;height:29px;justify-content:center;"><span>SAV3/JAX3/XLX6/GSP1/GSO1/IUSR</span></div>
<div class="t cty" style="left:493px;top:1192px;width:107px;height:29px;justify-content:center;"><span>美国<span class="us">(US)</span></span></div>
<div class="t wt up" style="left:601px;top:1192px;width:65px;height:29px;justify-content:center;"><span>12KG+</span></div>
<div class="t price" style="left:667px;top:1192px;width:94px;height:29px;justify-content:center;"><span>7.4</span></div>
<div class="t wt" style="left:762px;top:1192px;width:66px;height:29px;justify-content:center;"><span>50kg+</span></div>
<div class="t price" style="left:829px;top:1192px;width:93px;height:29px;justify-content:center;"><span>6.4</span></div>
<div class="t wt up" style="left:923px;top:1192px;width:63px;height:29px;justify-content:center;"><span>12KG+</span></div>
<div class="t price" style="left:987px;top:1192px;width:93px;height:29px;justify-content:center;"><span>7.6</span></div>
<div class="t wt" style="left:1081px;top:1192px;width:57px;height:29px;justify-content:center;"><span>50kg+</span></div>
<div class="t price" style="left:1139px;top:1192px;width:93px;height:29px;justify-content:center;"><span>6.6</span></div>
<div class="t days" style="left:1316px;top:1192px;width:89px;height:29px;justify-content:center;"><span>35-45天</span></div>
<div class="t code " style="left:88px;top:1222px;width:404px;height:29px;justify-content:center;"><span>MGE1/MGE3/RYY2/CLT2/CLT3/ RDU2/RDU4</span></div>
<div class="t cty" style="left:493px;top:1222px;width:107px;height:29px;justify-content:center;"><span>美国<span class="us">(US)</span></span></div>
<div class="t wt up" style="left:601px;top:1222px;width:65px;height:29px;justify-content:center;"><span>12KG+</span></div>
<div class="t price" style="left:667px;top:1222px;width:94px;height:29px;justify-content:center;"><span>7.6</span></div>
<div class="t wt" style="left:762px;top:1222px;width:66px;height:29px;justify-content:center;"><span>50kg+</span></div>
<div class="t price" style="left:829px;top:1222px;width:93px;height:29px;justify-content:center;"><span>6.6</span></div>
<div class="t wt up" style="left:923px;top:1222px;width:63px;height:29px;justify-content:center;"><span>12KG+</span></div>
<div class="t price" style="left:987px;top:1222px;width:93px;height:29px;justify-content:center;"><span>7.8</span></div>
<div class="t wt" style="left:1081px;top:1222px;width:57px;height:29px;justify-content:center;"><span>50kg+</span></div>
<div class="t price" style="left:1139px;top:1222px;width:93px;height:29px;justify-content:center;"><span>6.8</span></div>
<div class="t days" style="left:1316px;top:1222px;width:89px;height:29px;justify-content:center;"><span>35-45天</span></div>
<div class="t code " style="left:88px;top:1252px;width:404px;height:29px;justify-content:center;"><span>MCO1/MCO2/TPA2/TPA3/TPA6/TMB8/PBI2/PBI3</span></div>
<div class="t cty" style="left:493px;top:1252px;width:107px;height:29px;justify-content:center;"><span>美国<span class="us">(US)</span></span></div>
<div class="t wt up" style="left:601px;top:1252px;width:65px;height:29px;justify-content:center;"><span>12KG+</span></div>
<div class="t price" style="left:667px;top:1252px;width:94px;height:29px;justify-content:center;"><span>7.9</span></div>
<div class="t wt" style="left:762px;top:1252px;width:66px;height:29px;justify-content:center;"><span>50kg+</span></div>
<div class="t price" style="left:829px;top:1252px;width:93px;height:29px;justify-content:center;"><span>6.9</span></div>
<div class="t wt up" style="left:923px;top:1252px;width:63px;height:29px;justify-content:center;"><span>12KG+</span></div>
<div class="t price" style="left:987px;top:1252px;width:93px;height:29px;justify-content:center;"><span>8.1</span></div>
<div class="t wt" style="left:1081px;top:1252px;width:57px;height:29px;justify-content:center;"><span>50kg+</span></div>
<div class="t price" style="left:1139px;top:1252px;width:93px;height:29px;justify-content:center;"><span>7.1</span></div>
<div class="t days" style="left:1316px;top:1252px;width:89px;height:29px;justify-content:center;"><span>35-45天</span></div>
<div class="t code " style="left:88px;top:1282px;width:404px;height:29px;justify-content:center;"><span>BNA2/BNA6/CHA2/HSV1/HSV2/MEM1</span></div>
<div class="t cty" style="left:493px;top:1282px;width:107px;height:29px;justify-content:center;"><span>美国<span class="us">(US)</span></span></div>
<div class="t wt up" style="left:601px;top:1282px;width:65px;height:29px;justify-content:center;"><span>12KG+</span></div>
<div class="t price" style="left:667px;top:1282px;width:94px;height:29px;justify-content:center;"><span>8.1</span></div>
<div class="t wt" style="left:762px;top:1282px;width:66px;height:29px;justify-content:center;"><span>50kg+</span></div>
<div class="t price" style="left:829px;top:1282px;width:93px;height:29px;justify-content:center;"><span>7.1</span></div>
<div class="t wt up" style="left:923px;top:1282px;width:63px;height:29px;justify-content:center;"><span>12KG+</span></div>
<div class="t price" style="left:987px;top:1282px;width:93px;height:29px;justify-content:center;"><span>8.3</span></div>
<div class="t wt" style="left:1081px;top:1282px;width:57px;height:29px;justify-content:center;"><span>50kg+</span></div>
<div class="t price" style="left:1139px;top:1282px;width:93px;height:29px;justify-content:center;"><span>7.3</span></div>
<div class="t days" style="left:1316px;top:1282px;width:89px;height:29px;justify-content:center;"><span>35-45天</span></div>
<div class="t chan" style="left:1px;top:1192px;width:86px;height:119px;justify-content:center;"><span>普船萨凡纳卡<br>派<br><span class="mag">船司：OA</span></span></div>
<div class="t jd" style="left:1233px;top:1192px;width:82px;height:119px;justify-content:flex-start;padding-left:8px;"><span>参照船期表</span></div>
<div class="t bz" style="left:1406px;top:1192px;width:130px;height:119px;justify-content:center;"><span>萨凡纳直航<br>航程28天左右</span></div>
<div style="left:0px;top:1311px;width:1px;height:11px;background:#000;"></div>
<div style="left:1536px;top:1311px;width:1px;height:11px;background:#000;"></div>
<div style="left:1px;top:1322px;width:86px;height:240px;background:#E8ECF8;box-shadow:inset 0 0 0 1px #F6F8FD"></div>
<div style="left:88px;top:1322px;width:404px;height:36px;background:#E8ECF8;box-shadow:inset 0 0 0 1px #F6F8FD"></div>
<div style="left:493px;top:1322px;width:107px;height:36px;background:#E8ECF8;box-shadow:inset 0 0 0 1px #F6F8FD"></div>
<div style="left:667px;top:1322px;width:94px;height:36px;background:#E8ECF8;box-shadow:inset 0 0 0 1px #F6F8FD"></div>
<div style="left:829px;top:1322px;width:93px;height:36px;background:#E8ECF8;box-shadow:inset 0 0 0 1px #F6F8FD"></div>
<div style="left:987px;top:1322px;width:93px;height:36px;background:#E8ECF8;box-shadow:inset 0 0 0 1px #F6F8FD"></div>
<div style="left:1139px;top:1322px;width:93px;height:36px;background:#E8ECF8;box-shadow:inset 0 0 0 1px #F6F8FD"></div>
<div style="left:88px;top:1359px;width:404px;height:41px;background:#E8ECF8;box-shadow:inset 0 0 0 1px #F6F8FD"></div>
<div style="left:493px;top:1359px;width:107px;height:41px;background:#E8ECF8;box-shadow:inset 0 0 0 1px #F6F8FD"></div>
<div style="left:667px;top:1359px;width:94px;height:41px;background:#E8ECF8;box-shadow:inset 0 0 0 1px #F6F8FD"></div>
<div style="left:829px;top:1359px;width:93px;height:41px;background:#E8ECF8;box-shadow:inset 0 0 0 1px #F6F8FD"></div>
<div style="left:987px;top:1359px;width:93px;height:41px;background:#E8ECF8;box-shadow:inset 0 0 0 1px #F6F8FD"></div>
<div style="left:1139px;top:1359px;width:93px;height:41px;background:#E8ECF8;box-shadow:inset 0 0 0 1px #F6F8FD"></div>
<div style="left:88px;top:1401px;width:404px;height:41px;background:#E8ECF8;box-shadow:inset 0 0 0 1px #F6F8FD"></div>
<div style="left:493px;top:1401px;width:107px;height:41px;background:#E8ECF8;box-shadow:inset 0 0 0 1px #F6F8FD"></div>
<div style="left:667px;top:1401px;width:94px;height:41px;background:#E8ECF8;box-shadow:inset 0 0 0 1px #F6F8FD"></div>
<div style="left:829px;top:1401px;width:93px;height:41px;background:#E8ECF8;box-shadow:inset 0 0 0 1px #F6F8FD"></div>
<div style="left:987px;top:1401px;width:93px;height:41px;background:#E8ECF8;box-shadow:inset 0 0 0 1px #F6F8FD"></div>
<div style="left:1139px;top:1401px;width:93px;height:41px;background:#E8ECF8;box-shadow:inset 0 0 0 1px #F6F8FD"></div>
<div style="left:88px;top:1443px;width:404px;height:29px;background:#E8ECF8;box-shadow:inset 0 0 0 1px #F6F8FD"></div>
<div style="left:493px;top:1443px;width:107px;height:29px;background:#E8ECF8;box-shadow:inset 0 0 0 1px #F6F8FD"></div>
<div style="left:667px;top:1443px;width:94px;height:29px;background:#E8ECF8;box-shadow:inset 0 0 0 1px #F6F8FD"></div>
<div style="left:829px;top:1443px;width:93px;height:29px;background:#E8ECF8;box-shadow:inset 0 0 0 1px #F6F8FD"></div>
<div style="left:987px;top:1443px;width:93px;height:29px;background:#E8ECF8;box-shadow:inset 0 0 0 1px #F6F8FD"></div>
<div style="left:1139px;top:1443px;width:93px;height:29px;background:#E8ECF8;box-shadow:inset 0 0 0 1px #F6F8FD"></div>
<div style="left:88px;top:1473px;width:404px;height:29px;background:#E8ECF8;box-shadow:inset 0 0 0 1px #F6F8FD"></div>
<div style="left:493px;top:1473px;width:107px;height:29px;background:#E8ECF8;box-shadow:inset 0 0 0 1px #F6F8FD"></div>
<div style="left:667px;top:1473px;width:94px;height:29px;background:#E8ECF8;box-shadow:inset 0 0 0 1px #F6F8FD"></div>
<div style="left:829px;top:1473px;width:93px;height:29px;background:#E8ECF8;box-shadow:inset 0 0 0 1px #F6F8FD"></div>
<div style="left:987px;top:1473px;width:93px;height:29px;background:#E8ECF8;box-shadow:inset 0 0 0 1px #F6F8FD"></div>
<div style="left:1139px;top:1473px;width:93px;height:29px;background:#E8ECF8;box-shadow:inset 0 0 0 1px #F6F8FD"></div>
<div style="left:88px;top:1503px;width:404px;height:29px;background:#E8ECF8;box-shadow:inset 0 0 0 1px #F6F8FD"></div>
<div style="left:493px;top:1503px;width:107px;height:29px;background:#E8ECF8;box-shadow:inset 0 0 0 1px #F6F8FD"></div>
<div style="left:667px;top:1503px;width:94px;height:29px;background:#E8ECF8;box-shadow:inset 0 0 0 1px #F6F8FD"></div>
<div style="left:829px;top:1503px;width:93px;height:29px;background:#E8ECF8;box-shadow:inset 0 0 0 1px #F6F8FD"></div>
<div style="left:987px;top:1503px;width:93px;height:29px;background:#E8ECF8;box-shadow:inset 0 0 0 1px #F6F8FD"></div>
<div style="left:1139px;top:1503px;width:93px;height:29px;background:#E8ECF8;box-shadow:inset 0 0 0 1px #F6F8FD"></div>
<div style="left:88px;top:1533px;width:404px;height:29px;background:#E8ECF8;box-shadow:inset 0 0 0 1px #F6F8FD"></div>
<div style="left:493px;top:1533px;width:107px;height:29px;background:#E8ECF8;box-shadow:inset 0 0 0 1px #F6F8FD"></div>
<div style="left:667px;top:1533px;width:94px;height:29px;background:#E8ECF8;box-shadow:inset 0 0 0 1px #F6F8FD"></div>
<div style="left:829px;top:1533px;width:93px;height:29px;background:#E8ECF8;box-shadow:inset 0 0 0 1px #F6F8FD"></div>
<div style="left:987px;top:1533px;width:93px;height:29px;background:#E8ECF8;box-shadow:inset 0 0 0 1px #F6F8FD"></div>
<div style="left:1139px;top:1533px;width:93px;height:29px;background:#E8ECF8;box-shadow:inset 0 0 0 1px #F6F8FD"></div>
<div style="left:0px;top:1321px;width:1537px;height:1px;background:#000;"></div>
<div style="left:0px;top:1562px;width:1537px;height:1px;background:#000;"></div>
<div style="left:87px;top:1358px;width:1146px;height:1px;background:#000;"></div>
<div style="left:1315px;top:1358px;width:91px;height:1px;background:#000;"></div>
<div style="left:87px;top:1400px;width:1146px;height:1px;background:#000;"></div>
<div style="left:1315px;top:1400px;width:91px;height:1px;background:#000;"></div>
<div style="left:87px;top:1442px;width:1146px;height:1px;background:#000;"></div>
<div style="left:1315px;top:1442px;width:91px;height:1px;background:#000;"></div>
<div style="left:87px;top:1472px;width:1146px;height:1px;background:#000;"></div>
<div style="left:1315px;top:1472px;width:91px;height:1px;background:#000;"></div>
<div style="left:87px;top:1502px;width:1146px;height:1px;background:#000;"></div>
<div style="left:1315px;top:1502px;width:91px;height:1px;background:#000;"></div>
<div style="left:87px;top:1532px;width:1146px;height:1px;background:#000;"></div>
<div style="left:1315px;top:1532px;width:91px;height:1px;background:#000;"></div>
<div style="left:0px;top:1321px;width:1px;height:242px;background:#000;"></div>
<div style="left:87px;top:1321px;width:1px;height:242px;background:#000;"></div>
<div style="left:492px;top:1321px;width:1px;height:242px;background:#000;"></div>
<div style="left:600px;top:1321px;width:1px;height:242px;background:#000;"></div>
<div style="left:666px;top:1321px;width:1px;height:242px;background:#000;"></div>
<div style="left:761px;top:1321px;width:1px;height:242px;background:#000;"></div>
<div style="left:828px;top:1321px;width:1px;height:242px;background:#000;"></div>
<div style="left:922px;top:1321px;width:1px;height:242px;background:#000;"></div>
<div style="left:986px;top:1321px;width:1px;height:242px;background:#000;"></div>
<div style="left:1080px;top:1321px;width:1px;height:242px;background:#000;"></div>
<div style="left:1138px;top:1321px;width:1px;height:242px;background:#000;"></div>
<div style="left:1232px;top:1321px;width:1px;height:242px;background:#000;"></div>
<div style="left:1315px;top:1321px;width:1px;height:242px;background:#000;"></div>
<div style="left:1405px;top:1321px;width:1px;height:242px;background:#000;"></div>
<div style="left:1536px;top:1321px;width:1px;height:242px;background:#000;"></div>
<div class="t code " style="left:88px;top:1322px;width:404px;height:36px;justify-content:center;"><span>ABE8/ACY2/TTN2/TEB9/TEB6</span></div>
<div class="t cty" style="left:493px;top:1322px;width:107px;height:36px;justify-content:center;"><span>美国<span class="us">(US)</span></span></div>
<div class="t wt up" style="left:601px;top:1322px;width:65px;height:36px;justify-content:center;"><span>12KG+</span></div>
<div class="t price" style="left:667px;top:1322px;width:94px;height:36px;justify-content:center;"><span>7</span></div>
<div class="t wt" style="left:762px;top:1322px;width:66px;height:36px;justify-content:center;"><span>50kg+</span></div>
<div class="t price" style="left:829px;top:1322px;width:93px;height:36px;justify-content:center;"><span>6</span></div>
<div class="t wt up" style="left:923px;top:1322px;width:63px;height:36px;justify-content:center;"><span>12KG+</span></div>
<div class="t price" style="left:987px;top:1322px;width:93px;height:36px;justify-content:center;"><span>7.2</span></div>
<div class="t wt" style="left:1081px;top:1322px;width:57px;height:36px;justify-content:center;"><span>50kg+</span></div>
<div class="t price" style="left:1139px;top:1322px;width:93px;height:36px;justify-content:center;"><span>6.2</span></div>
<div class="t days" style="left:1316px;top:1322px;width:89px;height:36px;justify-content:center;"><span>35-45天</span></div>
<div class="t code " style="left:88px;top:1359px;width:404px;height:41px;justify-content:center;"><span>TEB3/TEB4/AVP1/AVP3/AVP9/ABE3/ABE4/ILG1/DCA6/ALB1/S<br>WF1/PHL4/PHL5/PHL6/MDT1/MDT4/ILG1/SWF2</span></div>
<div class="t cty" style="left:493px;top:1359px;width:107px;height:41px;justify-content:center;"><span>美国<span class="us">(US)</span></span></div>
<div class="t wt up" style="left:601px;top:1359px;width:65px;height:41px;justify-content:center;"><span>12KG+</span></div>
<div class="t price" style="left:667px;top:1359px;width:94px;height:41px;justify-content:center;"><span>7.3</span></div>
<div class="t wt" style="left:762px;top:1359px;width:66px;height:41px;justify-content:center;"><span>50kg+</span></div>
<div class="t price" style="left:829px;top:1359px;width:93px;height:41px;justify-content:center;"><span>6.3</span></div>
<div class="t wt up" style="left:923px;top:1359px;width:63px;height:41px;justify-content:center;"><span>12KG+</span></div>
<div class="t price" style="left:987px;top:1359px;width:93px;height:41px;justify-content:center;"><span>7.5</span></div>
<div class="t wt" style="left:1081px;top:1359px;width:57px;height:41px;justify-content:center;"><span>50kg+</span></div>
<div class="t price" style="left:1139px;top:1359px;width:93px;height:41px;justify-content:center;"><span>6.5</span></div>
<div class="t days" style="left:1316px;top:1359px;width:89px;height:41px;justify-content:center;"><span>35-45天</span></div>
<div class="t code " style="left:88px;top:1401px;width:404px;height:41px;justify-content:center;"><span>XLX1/HGR2/PIT2/LBE1/CMH2/CMH3/RMN3/ORF2/CHO1/RIC1<br>/RIC3/XRI3</span></div>
<div class="t cty" style="left:493px;top:1401px;width:107px;height:41px;justify-content:center;"><span>美国<span class="us">(US)</span></span></div>
<div class="t wt up" style="left:601px;top:1401px;width:65px;height:41px;justify-content:center;"><span>12KG+</span></div>
<div class="t price" style="left:667px;top:1401px;width:94px;height:41px;justify-content:center;"><span>7.9</span></div>
<div class="t wt" style="left:762px;top:1401px;width:66px;height:41px;justify-content:center;"><span>50kg+</span></div>
<div class="t price" style="left:829px;top:1401px;width:93px;height:41px;justify-content:center;"><span>6.9</span></div>
<div class="t wt up" style="left:923px;top:1401px;width:63px;height:41px;justify-content:center;"><span>12KG+</span></div>
<div class="t price" style="left:987px;top:1401px;width:93px;height:41px;justify-content:center;"><span>8.1</span></div>
<div class="t wt" style="left:1081px;top:1401px;width:57px;height:41px;justify-content:center;"><span>50kg+</span></div>
<div class="t price" style="left:1139px;top:1401px;width:93px;height:41px;justify-content:center;"><span>7.1</span></div>
<div class="t days" style="left:1316px;top:1401px;width:89px;height:41px;justify-content:center;"><span>35-45天</span></div>
<div class="t code " style="left:88px;top:1443px;width:404px;height:29px;justify-content:center;"><span>CLT2/CLT3/XLX6/GSO1/HGR6/BOS7/RDU2/RDU4</span></div>
<div class="t cty" style="left:493px;top:1443px;width:107px;height:29px;justify-content:center;"><span>美国<span class="us">(US)</span></span></div>
<div class="t wt up" style="left:601px;top:1443px;width:65px;height:29px;justify-content:center;"><span>12KG+</span></div>
<div class="t price" style="left:667px;top:1443px;width:94px;height:29px;justify-content:center;"><span>8.1</span></div>
<div class="t wt" style="left:762px;top:1443px;width:66px;height:29px;justify-content:center;"><span>50kg+</span></div>
<div class="t price" style="left:829px;top:1443px;width:93px;height:29px;justify-content:center;"><span>7.1</span></div>
<div class="t wt up" style="left:923px;top:1443px;width:63px;height:29px;justify-content:center;"><span>12KG+</span></div>
<div class="t price" style="left:987px;top:1443px;width:93px;height:29px;justify-content:center;"><span>8.3</span></div>
<div class="t wt" style="left:1081px;top:1443px;width:57px;height:29px;justify-content:center;"><span>50kg+</span></div>
<div class="t price" style="left:1139px;top:1443px;width:93px;height:29px;justify-content:center;"><span>7.3</span></div>
<div class="t days" style="left:1316px;top:1443px;width:89px;height:29px;justify-content:center;"><span>35-45天</span></div>
<div class="t code " style="left:88px;top:1473px;width:404px;height:29px;justify-content:center;"><span>IND2/IND4/IND5/IND9/MQJ1/MQJ2/FWA4</span></div>
<div class="t cty" style="left:493px;top:1473px;width:107px;height:29px;justify-content:center;"><span>美国<span class="us">(US)</span></span></div>
<div class="t wt up" style="left:601px;top:1473px;width:65px;height:29px;justify-content:center;"><span>12KG+</span></div>
<div class="t price" style="left:667px;top:1473px;width:94px;height:29px;justify-content:center;"><span>8.4</span></div>
<div class="t wt" style="left:762px;top:1473px;width:66px;height:29px;justify-content:center;"><span>50kg+</span></div>
<div class="t price" style="left:829px;top:1473px;width:93px;height:29px;justify-content:center;"><span>7.4</span></div>
<div class="t wt up" style="left:923px;top:1473px;width:63px;height:29px;justify-content:center;"><span>12KG+</span></div>
<div class="t price" style="left:987px;top:1473px;width:93px;height:29px;justify-content:center;"><span>8.6</span></div>
<div class="t wt" style="left:1081px;top:1473px;width:57px;height:29px;justify-content:center;"><span>50kg+</span></div>
<div class="t price" style="left:1139px;top:1473px;width:93px;height:29px;justify-content:center;"><span>7.6</span></div>
<div class="t days" style="left:1316px;top:1473px;width:89px;height:29px;justify-content:center;"><span>35-45天</span></div>
<div class="t code " style="left:88px;top:1503px;width:404px;height:29px;justify-content:center;"><span>MDW2/MDW6/MDW8/MDW9/RFD2/ORD2/IGQ2/RFD4</span></div>
<div class="t cty" style="left:493px;top:1503px;width:107px;height:29px;justify-content:center;"><span>美国<span class="us">(US)</span></span></div>
<div class="t wt up" style="left:601px;top:1503px;width:65px;height:29px;justify-content:center;"><span>12KG+</span></div>
<div class="t price" style="left:667px;top:1503px;width:94px;height:29px;justify-content:center;"><span>8.7</span></div>
<div class="t wt" style="left:762px;top:1503px;width:66px;height:29px;justify-content:center;"><span>50kg+</span></div>
<div class="t price" style="left:829px;top:1503px;width:93px;height:29px;justify-content:center;"><span>7.7</span></div>
<div class="t wt up" style="left:923px;top:1503px;width:63px;height:29px;justify-content:center;"><span>12KG+</span></div>
<div class="t price" style="left:987px;top:1503px;width:93px;height:29px;justify-content:center;"><span>8.9</span></div>
<div class="t wt" style="left:1081px;top:1503px;width:57px;height:29px;justify-content:center;"><span>50kg+</span></div>
<div class="t price" style="left:1139px;top:1503px;width:93px;height:29px;justify-content:center;"><span>7.9</span></div>
<div class="t days" style="left:1316px;top:1503px;width:89px;height:29px;justify-content:center;"><span>35-45天</span></div>
<div class="t code " style="left:88px;top:1533px;width:404px;height:29px;justify-content:center;"><span>TPA2/TPA3/TPA6/MCO2/JAX3/PBI3</span></div>
<div class="t cty" style="left:493px;top:1533px;width:107px;height:29px;justify-content:center;"><span>美国<span class="us">(US)</span></span></div>
<div class="t wt up" style="left:601px;top:1533px;width:65px;height:29px;justify-content:center;"><span>12KG+</span></div>
<div class="t price" style="left:667px;top:1533px;width:94px;height:29px;justify-content:center;"><span>10.1</span></div>
<div class="t wt" style="left:762px;top:1533px;width:66px;height:29px;justify-content:center;"><span>50kg+</span></div>
<div class="t price" style="left:829px;top:1533px;width:93px;height:29px;justify-content:center;"><span>9.1</span></div>
<div class="t wt up" style="left:923px;top:1533px;width:63px;height:29px;justify-content:center;"><span>12KG+</span></div>
<div class="t price" style="left:987px;top:1533px;width:93px;height:29px;justify-content:center;"><span>10.3</span></div>
<div class="t wt" style="left:1081px;top:1533px;width:57px;height:29px;justify-content:center;"><span>50kg+</span></div>
<div class="t price" style="left:1139px;top:1533px;width:93px;height:29px;justify-content:center;"><span>9.3</span></div>
<div class="t days" style="left:1316px;top:1533px;width:89px;height:29px;justify-content:center;"><span>35-45天</span></div>
<div class="t chan" style="left:1px;top:1322px;width:86px;height:240px;justify-content:center;"><span>普船纽约卡派<br>A区<br><span class="mag">船司：OA</span></span></div>
<div class="t jd" style="left:1233px;top:1322px;width:82px;height:240px;justify-content:flex-start;padding-left:8px;"><span>参照船期表</span></div>
<div class="t bz" style="left:1406px;top:1322px;width:130px;height:240px;justify-content:center;"><span>采用AWE航线，纽<br>约直航<br>航程26-28天</span></div>
<div style="left:1px;top:1563px;width:1535px;height:1px;background:#8EA9DB;"></div>
<div style="left:1px;top:1591px;width:1535px;height:1px;background:#8EA9DB;"></div>
<div style="left:1px;top:1563px;width:1px;height:29px;background:#8EA9DB;"></div>
<div style="left:1535px;top:1563px;width:1px;height:29px;background:#8EA9DB;"></div>
<div class="t foot" style="left:2px;top:1564px;width:1533px;height:27px;justify-content:center;"><span>海关查验，战争，自然灾害，美国节假日，亚马逊关仓，推约，删约，爆仓等不可控因素导致的延误将不做时效赔付！</span></div>
<div style="left:1px;top:1593px;width:1535px;height:1px;background:#8EA9DB;"></div>
<div style="left:1px;top:1643px;width:1535px;height:1px;background:#8EA9DB;"></div>
<div style="left:1px;top:1593px;width:1px;height:51px;background:#8EA9DB;"></div>
<div style="left:1535px;top:1593px;width:1px;height:51px;background:#8EA9DB;"></div>
<div class="t foot lh22" style="left:2px;top:1594px;width:1533px;height:49px;justify-content:center;"><span>整柜直送的货物，最长不能超60CM，最重不能超22KG。<br><span style="color:#444">卡派超重也可以发，后续产生上架的问题我司概不承担！</span></span></div>
<div style="left:1px;top:1645px;width:1535px;height:1px;background:#8EA9DB;"></div>
<div style="left:1px;top:1673px;width:1535px;height:1px;background:#8EA9DB;"></div>
<div style="left:1px;top:1645px;width:1px;height:29px;background:#8EA9DB;"></div>
<div style="left:1535px;top:1645px;width:1px;height:29px;background:#8EA9DB;"></div>
<div class="t foot red b f136" style="left:2px;top:1646px;width:1533px;height:27px;justify-content:center;"><span>51KG以上比重优惠：1:210减0.5 &nbsp; 1:300减1.0 &nbsp;&nbsp; 1:400减1.5</span></div>
</body></html>
